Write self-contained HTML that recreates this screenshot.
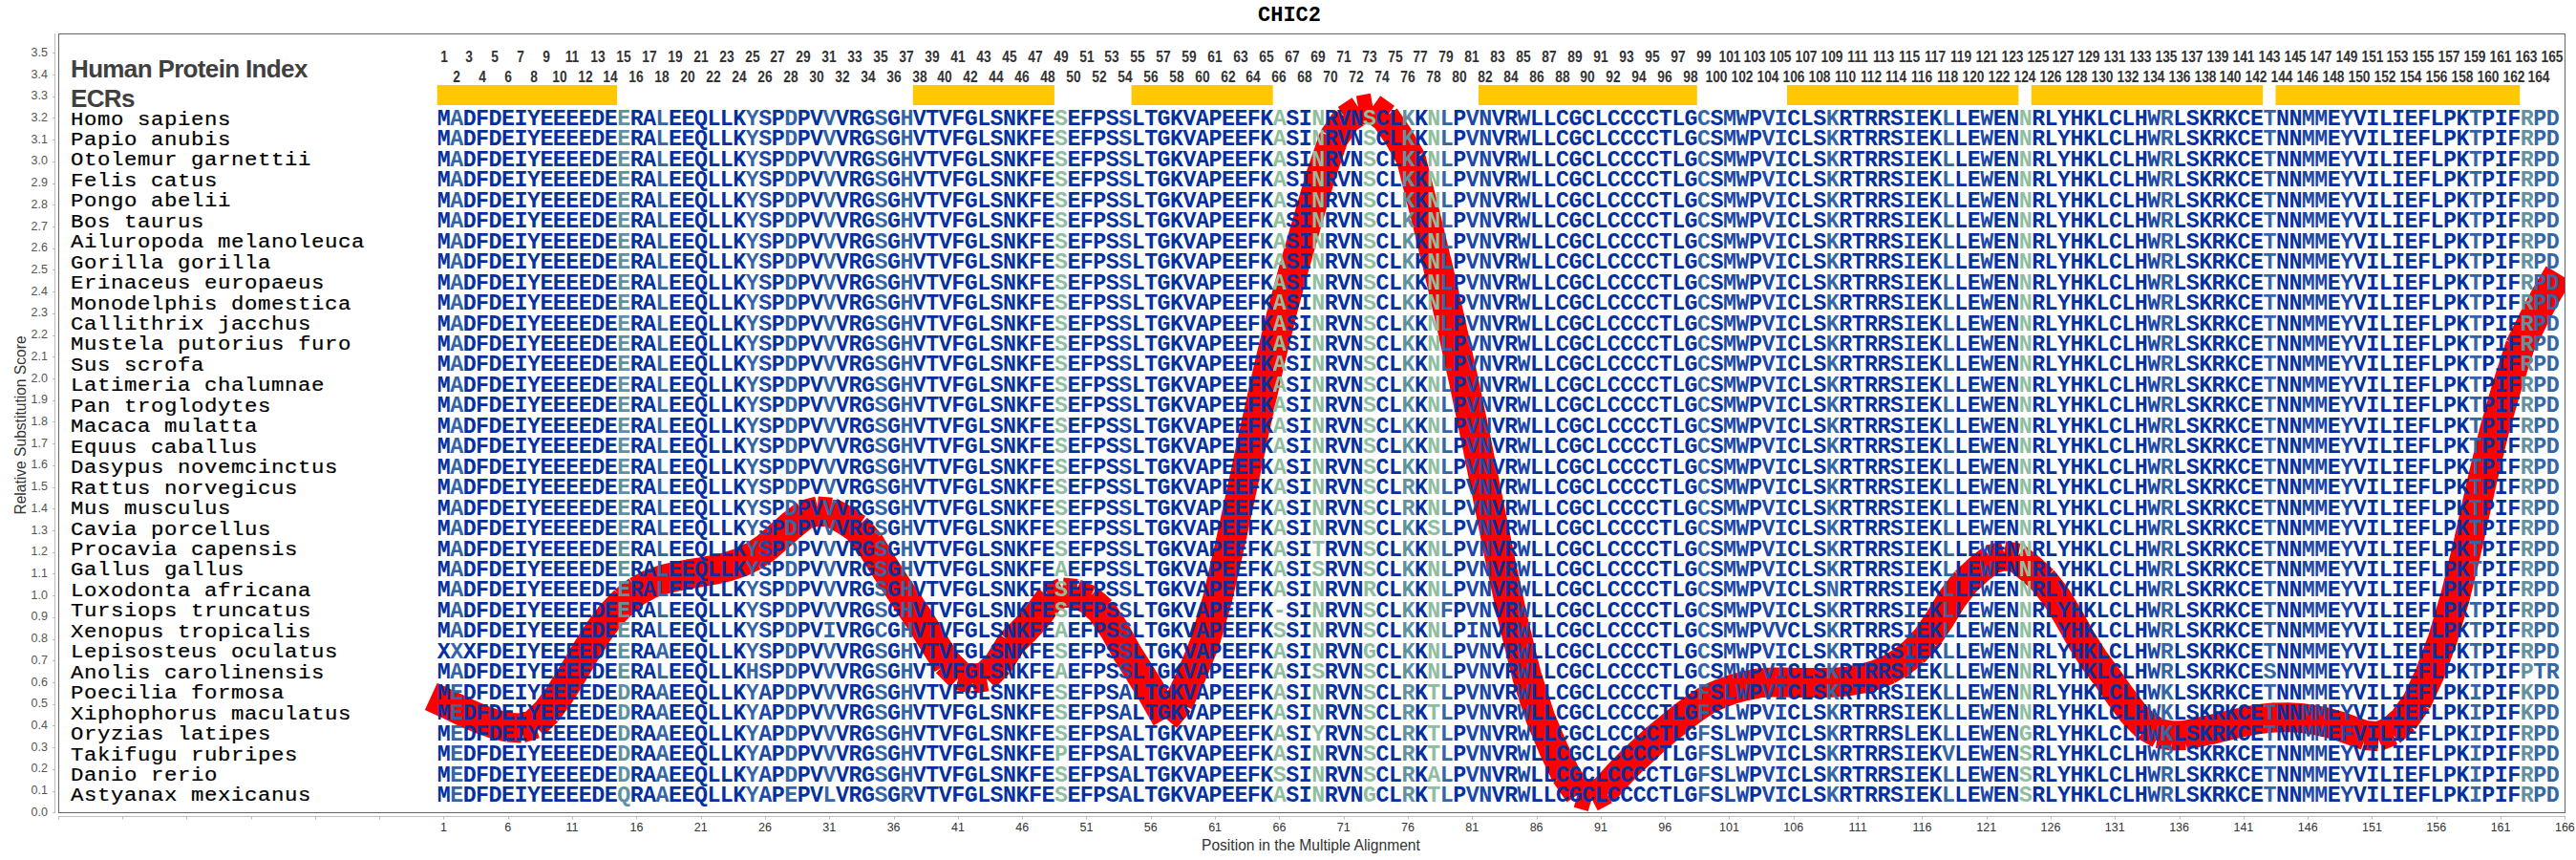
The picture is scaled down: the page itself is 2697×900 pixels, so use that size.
<!DOCTYPE html><html><head><meta charset="utf-8"><style>

html,body{margin:0;padding:0;background:#fff;}
body{width:2697px;height:900px;position:relative;overflow:hidden;}
.a{position:absolute;white-space:pre;}
.ttl{font:bold 22px "Liberation Mono",monospace;color:#000;}
.yl{font:12.5px "Liberation Sans",sans-serif;color:#555;text-align:right;width:40px;left:10px;line-height:14px;}
.xl{font:12.5px "Liberation Sans",sans-serif;color:#333;width:40px;text-align:center;line-height:14px;}
.lab{font:15.6px "Liberation Sans",sans-serif;color:#333;}
.hpi{font:bold 26px "Liberation Sans",sans-serif;color:#404040;line-height:30px;letter-spacing:-0.65px;}
.num{font:bold 16px "Liberation Sans",sans-serif;color:#333;width:40px;text-align:center;line-height:16px;transform:scaleX(0.86);}
.sp{font:20.5px "Liberation Mono",monospace;color:#000;letter-spacing:0.54px;line-height:21.45px;-webkit-text-stroke:0.2px #000;transform:scaleX(1.09);transform-origin:0 0;}
.sq{font:bold 23.3px "Liberation Mono",monospace;letter-spacing:-0.52px;line-height:21.45px;}
.c0{color:#0530a0}.c1{color:#1c48a8}.c2{color:#3466a6}.c3{color:#5f929e}.c4{color:#8fbe9f}

</style></head><body>
<div class="a ttl" style="left:1317px;top:3.5px;">CHIC2</div>
<svg class="a" style="left:0;top:0" width="2697" height="900"><line x1="57.5" y1="35" x2="57.5" y2="851" stroke="#bbb" stroke-width="1"/><line x1="55" y1="850.5" x2="57.5" y2="850.5" stroke="#bbb" stroke-width="1"/><line x1="55" y1="828.5" x2="57.5" y2="828.5" stroke="#bbb" stroke-width="1"/><line x1="55" y1="805.5" x2="57.5" y2="805.5" stroke="#bbb" stroke-width="1"/><line x1="55" y1="782.5" x2="57.5" y2="782.5" stroke="#bbb" stroke-width="1"/><line x1="55" y1="759.5" x2="57.5" y2="759.5" stroke="#bbb" stroke-width="1"/><line x1="55" y1="737.5" x2="57.5" y2="737.5" stroke="#bbb" stroke-width="1"/><line x1="55" y1="714.5" x2="57.5" y2="714.5" stroke="#bbb" stroke-width="1"/><line x1="55" y1="691.5" x2="57.5" y2="691.5" stroke="#bbb" stroke-width="1"/><line x1="55" y1="669.5" x2="57.5" y2="669.5" stroke="#bbb" stroke-width="1"/><line x1="55" y1="646.5" x2="57.5" y2="646.5" stroke="#bbb" stroke-width="1"/><line x1="55" y1="623.5" x2="57.5" y2="623.5" stroke="#bbb" stroke-width="1"/><line x1="55" y1="600.5" x2="57.5" y2="600.5" stroke="#bbb" stroke-width="1"/><line x1="55" y1="578.5" x2="57.5" y2="578.5" stroke="#bbb" stroke-width="1"/><line x1="55" y1="555.5" x2="57.5" y2="555.5" stroke="#bbb" stroke-width="1"/><line x1="55" y1="532.5" x2="57.5" y2="532.5" stroke="#bbb" stroke-width="1"/><line x1="55" y1="510.5" x2="57.5" y2="510.5" stroke="#bbb" stroke-width="1"/><line x1="55" y1="487.5" x2="57.5" y2="487.5" stroke="#bbb" stroke-width="1"/><line x1="55" y1="464.5" x2="57.5" y2="464.5" stroke="#bbb" stroke-width="1"/><line x1="55" y1="441.5" x2="57.5" y2="441.5" stroke="#bbb" stroke-width="1"/><line x1="55" y1="419.5" x2="57.5" y2="419.5" stroke="#bbb" stroke-width="1"/><line x1="55" y1="396.5" x2="57.5" y2="396.5" stroke="#bbb" stroke-width="1"/><line x1="55" y1="373.5" x2="57.5" y2="373.5" stroke="#bbb" stroke-width="1"/><line x1="55" y1="351.5" x2="57.5" y2="351.5" stroke="#bbb" stroke-width="1"/><line x1="55" y1="328.5" x2="57.5" y2="328.5" stroke="#bbb" stroke-width="1"/><line x1="55" y1="305.5" x2="57.5" y2="305.5" stroke="#bbb" stroke-width="1"/><line x1="55" y1="282.5" x2="57.5" y2="282.5" stroke="#bbb" stroke-width="1"/><line x1="55" y1="260.5" x2="57.5" y2="260.5" stroke="#bbb" stroke-width="1"/><line x1="55" y1="237.5" x2="57.5" y2="237.5" stroke="#bbb" stroke-width="1"/><line x1="55" y1="214.5" x2="57.5" y2="214.5" stroke="#bbb" stroke-width="1"/><line x1="55" y1="192.5" x2="57.5" y2="192.5" stroke="#bbb" stroke-width="1"/><line x1="55" y1="169.5" x2="57.5" y2="169.5" stroke="#bbb" stroke-width="1"/><line x1="55" y1="146.5" x2="57.5" y2="146.5" stroke="#bbb" stroke-width="1"/><line x1="55" y1="123.5" x2="57.5" y2="123.5" stroke="#bbb" stroke-width="1"/><line x1="55" y1="101.5" x2="57.5" y2="101.5" stroke="#bbb" stroke-width="1"/><line x1="55" y1="78.5" x2="57.5" y2="78.5" stroke="#bbb" stroke-width="1"/><line x1="55" y1="55.5" x2="57.5" y2="55.5" stroke="#bbb" stroke-width="1"/><line x1="61" y1="854.5" x2="2686" y2="854.5" stroke="#bbb" stroke-width="1"/><line x1="61.5" y1="854.5" x2="61.5" y2="857.5" stroke="#bbb" stroke-width="1"/><line x1="128.5" y1="854.5" x2="128.5" y2="857.5" stroke="#bbb" stroke-width="1"/><line x1="195.5" y1="854.5" x2="195.5" y2="857.5" stroke="#bbb" stroke-width="1"/><line x1="263.5" y1="854.5" x2="263.5" y2="857.5" stroke="#bbb" stroke-width="1"/><line x1="330.5" y1="854.5" x2="330.5" y2="857.5" stroke="#bbb" stroke-width="1"/><line x1="397.5" y1="854.5" x2="397.5" y2="857.5" stroke="#bbb" stroke-width="1"/><line x1="464.5" y1="854.5" x2="464.5" y2="857.5" stroke="#bbb" stroke-width="1"/><line x1="532.5" y1="854.5" x2="532.5" y2="857.5" stroke="#bbb" stroke-width="1"/><line x1="599.5" y1="854.5" x2="599.5" y2="857.5" stroke="#bbb" stroke-width="1"/><line x1="666.5" y1="854.5" x2="666.5" y2="857.5" stroke="#bbb" stroke-width="1"/><line x1="734.5" y1="854.5" x2="734.5" y2="857.5" stroke="#bbb" stroke-width="1"/><line x1="801.5" y1="854.5" x2="801.5" y2="857.5" stroke="#bbb" stroke-width="1"/><line x1="868.5" y1="854.5" x2="868.5" y2="857.5" stroke="#bbb" stroke-width="1"/><line x1="936.5" y1="854.5" x2="936.5" y2="857.5" stroke="#bbb" stroke-width="1"/><line x1="1003.5" y1="854.5" x2="1003.5" y2="857.5" stroke="#bbb" stroke-width="1"/><line x1="1070.5" y1="854.5" x2="1070.5" y2="857.5" stroke="#bbb" stroke-width="1"/><line x1="1137.5" y1="854.5" x2="1137.5" y2="857.5" stroke="#bbb" stroke-width="1"/><line x1="1205.5" y1="854.5" x2="1205.5" y2="857.5" stroke="#bbb" stroke-width="1"/><line x1="1272.5" y1="854.5" x2="1272.5" y2="857.5" stroke="#bbb" stroke-width="1"/><line x1="1339.5" y1="854.5" x2="1339.5" y2="857.5" stroke="#bbb" stroke-width="1"/><line x1="1407.5" y1="854.5" x2="1407.5" y2="857.5" stroke="#bbb" stroke-width="1"/><line x1="1474.5" y1="854.5" x2="1474.5" y2="857.5" stroke="#bbb" stroke-width="1"/><line x1="1541.5" y1="854.5" x2="1541.5" y2="857.5" stroke="#bbb" stroke-width="1"/><line x1="1609.5" y1="854.5" x2="1609.5" y2="857.5" stroke="#bbb" stroke-width="1"/><line x1="1676.5" y1="854.5" x2="1676.5" y2="857.5" stroke="#bbb" stroke-width="1"/><line x1="1743.5" y1="854.5" x2="1743.5" y2="857.5" stroke="#bbb" stroke-width="1"/><line x1="1810.5" y1="854.5" x2="1810.5" y2="857.5" stroke="#bbb" stroke-width="1"/><line x1="1878.5" y1="854.5" x2="1878.5" y2="857.5" stroke="#bbb" stroke-width="1"/><line x1="1945.5" y1="854.5" x2="1945.5" y2="857.5" stroke="#bbb" stroke-width="1"/><line x1="2012.5" y1="854.5" x2="2012.5" y2="857.5" stroke="#bbb" stroke-width="1"/><line x1="2080.5" y1="854.5" x2="2080.5" y2="857.5" stroke="#bbb" stroke-width="1"/><line x1="2147.5" y1="854.5" x2="2147.5" y2="857.5" stroke="#bbb" stroke-width="1"/><line x1="2214.5" y1="854.5" x2="2214.5" y2="857.5" stroke="#bbb" stroke-width="1"/><line x1="2282.5" y1="854.5" x2="2282.5" y2="857.5" stroke="#bbb" stroke-width="1"/><line x1="2349.5" y1="854.5" x2="2349.5" y2="857.5" stroke="#bbb" stroke-width="1"/><line x1="2416.5" y1="854.5" x2="2416.5" y2="857.5" stroke="#bbb" stroke-width="1"/><line x1="2483.5" y1="854.5" x2="2483.5" y2="857.5" stroke="#bbb" stroke-width="1"/><line x1="2551.5" y1="854.5" x2="2551.5" y2="857.5" stroke="#bbb" stroke-width="1"/><line x1="2618.5" y1="854.5" x2="2618.5" y2="857.5" stroke="#bbb" stroke-width="1"/><line x1="2685.5" y1="854.5" x2="2685.5" y2="857.5" stroke="#bbb" stroke-width="1"/><rect x="61.5" y="35.5" width="2624" height="815" fill="none" stroke="#666" stroke-width="1"/><rect x="457.7" y="89" width="188.4" height="21" fill="#ffc800"/><rect x="955.8" y="89" width="148.1" height="21" fill="#ffc800"/><rect x="1184.6" y="89" width="148.1" height="21" fill="#ffc800"/><rect x="1548.0" y="89" width="228.8" height="21" fill="#ffc800"/><rect x="1871.0" y="89" width="242.3" height="21" fill="#ffc800"/><rect x="2126.8" y="89" width="242.3" height="21" fill="#ffc800"/><rect x="2382.5" y="89" width="255.7" height="21" fill="#ffc800"/><clipPath id="cp"><rect x="62" y="36" width="2623" height="814"/></clipPath><path clip-path="url(#cp)" d="M451.3 728.8L465.5 735.3M464.1 734.6L479.0 741.8M477.6 741.1L492.5 748.1M491.1 747.4L506.0 753.7M504.5 753.2L519.6 758.2M518.0 757.8L533.1 761.3M531.5 761.1L546.6 762.1M545.0 762.3L560.1 757.4M558.7 758.2L573.4 744.2M572.3 745.4L586.8 725.6M585.9 726.9L600.2 704.0M599.4 705.4L613.7 681.2M612.9 682.6L627.2 660.0M626.3 661.4L640.8 642.2M639.8 643.4L654.4 628.2M653.2 629.2L667.9 617.8M666.6 618.7L681.5 610.8M680.1 611.4L695.1 606.2M693.5 606.6L708.6 603.1M707.0 603.4L722.1 600.7M720.5 600.9L735.6 598.5M734.0 598.8L749.1 596.1M747.5 596.4L762.6 593.0M761.1 593.4L776.1 588.4M774.6 589.0L789.5 581.8M788.2 582.6L803.0 572.6M801.7 573.6L816.4 560.6M815.2 561.7L829.9 548.7M828.7 549.8L843.4 538.0M842.0 538.7L857.1 534.8M855.5 534.9L870.6 536.1M869.1 535.6L884.0 543.9M882.7 543.1L897.5 552.9M896.3 551.8L910.8 568.9M909.9 567.6L924.2 590.9M923.4 589.6L937.8 611.7M936.9 610.4L951.3 631.6M950.4 630.3L964.8 651.7M963.9 650.4L978.2 673.4M977.4 672.1L991.8 694.5M990.8 693.3L1005.4 707.6M1004.1 706.8L1019.1 710.7M1017.5 710.6L1032.6 707.9M1031.3 708.6L1045.9 693.9M1044.9 695.1L1059.3 672.4M1058.3 673.6L1072.9 659.1M1071.8 660.3L1086.4 644.4M1085.4 645.7L1099.8 625.3M1098.6 626.3L1113.6 619.7M1112.0 619.9L1127.1 621.4M1125.6 621.0L1140.6 627.6M1139.2 626.8L1153.9 639.7M1152.9 638.5L1167.3 660.0M1166.4 658.6L1180.7 684.4M1179.9 683.0L1194.3 705.7M1193.4 704.4L1207.8 727.7M1206.9 726.3L1221.2 751.7M1220.3 751.6L1234.9 734.4M1234.0 735.7L1248.2 705.3M1247.5 706.7L1261.6 672.2M1261.1 673.7L1275.1 625.1M1274.7 626.6L1288.5 566.5M1288.2 568.1L1302.0 504.1M1301.7 505.6L1315.5 441.1M1315.2 442.7L1329.0 380.9M1328.6 382.5L1342.5 325.8M1342.1 327.3L1356.0 275.8M1355.6 277.4L1369.6 228.8M1369.1 230.3L1383.1 182.6M1382.6 184.1L1396.6 143.6M1395.9 145.0L1410.3 123.8M1409.2 124.9L1424.0 115.3M1422.6 115.8L1437.6 113.1M1436.2 112.8L1451.0 123.3M1449.9 122.2L1464.3 143.0M1463.4 141.6L1477.7 166.6M1477.1 165.1L1491.0 220.1M1490.7 218.5L1504.5 275.6M1504.2 274.1L1518.0 333.5M1517.7 332.0L1531.5 394.3M1531.2 392.7L1545.0 458.5M1544.7 456.9L1558.5 525.8M1558.2 524.2L1572.0 592.6M1571.7 591.0L1585.5 655.1M1585.2 653.6L1599.0 709.4M1598.6 707.8L1612.6 750.9M1612.0 749.4L1626.2 783.3M1625.5 781.9L1639.7 811.5M1638.9 810.1L1653.3 830.7M1652.1 829.8L1667.1 834.2M1665.6 834.4L1680.6 826.6M1679.3 827.6L1693.9 811.4M1692.8 812.6L1707.4 797.4M1706.3 798.5L1720.9 785.0M1719.8 786.0L1734.4 772.5M1733.2 773.5L1748.0 761.5M1746.7 762.5L1761.5 750.5M1760.2 751.5L1775.0 740.5M1773.7 741.4L1788.5 731.6M1787.1 732.3L1802.1 725.7M1800.6 726.3L1815.6 720.7M1814.1 721.2L1829.1 717.3M1827.6 717.7L1842.6 714.7M1841.1 714.9L1856.2 713.9M1854.6 713.9L1869.7 714.0M1868.1 714.0L1883.2 714.4M1881.6 714.4L1896.7 714.6M1895.1 714.6L1910.2 714.6M1908.6 714.6L1923.7 714.0M1922.1 714.1L1937.2 712.6M1935.6 712.8L1950.7 710.1M1949.1 710.5L1964.1 706.3M1962.6 706.8L1977.6 700.6M1976.2 701.4L1991.1 692.7M1989.7 693.6L2004.5 682.0M2003.3 683.0L2017.9 667.5M2016.9 668.7L2031.3 647.3M2030.5 648.6L2044.8 625.2M2043.9 626.5L2058.4 607.9M2057.3 609.1L2072.0 595.6M2070.7 596.7L2085.5 585.0M2084.1 585.7L2099.1 581.3M2097.6 581.4L2112.7 584.1M2111.3 583.5L2126.0 595.4M2124.8 594.3L2139.5 607.6M2138.4 606.5L2152.9 624.7M2152.0 623.4L2166.3 646.7M2165.5 645.4L2179.8 670.9M2178.9 669.5L2193.3 691.9M2192.4 690.6L2206.9 710.0M2205.9 708.7L2220.3 729.2M2219.4 727.9L2233.9 747.1M2232.8 745.9L2247.4 760.6M2246.2 759.6L2261.1 767.9M2259.6 767.4L2274.7 770.1M2273.1 770.0L2288.2 769.5M2286.6 769.7L2301.7 766.3M2300.1 766.7L2315.2 763.4M2313.6 763.8L2328.7 760.2M2327.1 760.6L2342.2 757.0M2340.6 757.4L2355.7 754.2M2354.1 754.5L2369.2 752.0M2367.6 752.2L2382.7 750.8M2381.1 750.9L2396.2 750.7M2394.6 750.6L2409.7 751.5M2408.1 751.3L2423.2 753.3M2421.6 753.1L2436.7 756.2M2435.1 755.8L2450.2 760.1M2448.6 759.6L2463.6 765.0M2462.1 764.5L2477.1 769.8M2475.6 769.4L2490.7 770.8M2489.2 771.0L2504.1 764.9M2502.8 765.8L2517.5 752.8M2516.4 753.9L2530.9 733.6M2530.1 735.0L2544.2 704.8M2543.6 706.2L2557.7 668.1M2557.2 669.6L2571.1 622.5M2570.7 624.0L2584.6 566.8M2584.2 568.4L2598.1 505.8M2597.7 507.3L2611.6 449.9M2611.2 451.4L2625.1 403.0M2624.7 404.5L2638.6 361.2M2638.0 362.7L2652.3 334.3M2651.5 335.7L2665.8 308.3M2665.0 309.7L2678.9 286.5" stroke="#ff0000" stroke-width="31" fill="none" stroke-linecap="butt"/></svg>
<div class="a yl" style="top:842.8px">0.0</div>
<div class="a yl" style="top:820.1px">0.1</div>
<div class="a yl" style="top:797.4px">0.2</div>
<div class="a yl" style="top:774.7px">0.3</div>
<div class="a yl" style="top:751.9px">0.4</div>
<div class="a yl" style="top:729.2px">0.5</div>
<div class="a yl" style="top:706.5px">0.6</div>
<div class="a yl" style="top:683.8px">0.7</div>
<div class="a yl" style="top:661.1px">0.8</div>
<div class="a yl" style="top:638.4px">0.9</div>
<div class="a yl" style="top:615.7px">1.0</div>
<div class="a yl" style="top:593.0px">1.1</div>
<div class="a yl" style="top:570.2px">1.2</div>
<div class="a yl" style="top:547.5px">1.3</div>
<div class="a yl" style="top:524.8px">1.4</div>
<div class="a yl" style="top:502.1px">1.5</div>
<div class="a yl" style="top:479.4px">1.6</div>
<div class="a yl" style="top:456.7px">1.7</div>
<div class="a yl" style="top:434.0px">1.8</div>
<div class="a yl" style="top:411.3px">1.9</div>
<div class="a yl" style="top:388.5px">2.0</div>
<div class="a yl" style="top:365.8px">2.1</div>
<div class="a yl" style="top:343.1px">2.2</div>
<div class="a yl" style="top:320.4px">2.3</div>
<div class="a yl" style="top:297.7px">2.4</div>
<div class="a yl" style="top:275.0px">2.5</div>
<div class="a yl" style="top:252.3px">2.6</div>
<div class="a yl" style="top:229.5px">2.7</div>
<div class="a yl" style="top:206.8px">2.8</div>
<div class="a yl" style="top:184.1px">2.9</div>
<div class="a yl" style="top:161.4px">3.0</div>
<div class="a yl" style="top:138.7px">3.1</div>
<div class="a yl" style="top:116.0px">3.2</div>
<div class="a yl" style="top:93.3px">3.3</div>
<div class="a yl" style="top:70.6px">3.4</div>
<div class="a yl" style="top:47.8px">3.5</div>
<div class="a xl" style="left:444.5px;top:859px">1</div>
<div class="a xl" style="left:511.8px;top:859px">6</div>
<div class="a xl" style="left:579.1px;top:859px">11</div>
<div class="a xl" style="left:646.4px;top:859px">16</div>
<div class="a xl" style="left:713.7px;top:859px">21</div>
<div class="a xl" style="left:781.0px;top:859px">26</div>
<div class="a xl" style="left:848.3px;top:859px">31</div>
<div class="a xl" style="left:915.6px;top:859px">36</div>
<div class="a xl" style="left:982.9px;top:859px">41</div>
<div class="a xl" style="left:1050.2px;top:859px">46</div>
<div class="a xl" style="left:1117.5px;top:859px">51</div>
<div class="a xl" style="left:1184.8px;top:859px">56</div>
<div class="a xl" style="left:1252.1px;top:859px">61</div>
<div class="a xl" style="left:1319.4px;top:859px">66</div>
<div class="a xl" style="left:1386.7px;top:859px">71</div>
<div class="a xl" style="left:1454.0px;top:859px">76</div>
<div class="a xl" style="left:1521.3px;top:859px">81</div>
<div class="a xl" style="left:1588.6px;top:859px">86</div>
<div class="a xl" style="left:1655.9px;top:859px">91</div>
<div class="a xl" style="left:1723.2px;top:859px">96</div>
<div class="a xl" style="left:1790.5px;top:859px">101</div>
<div class="a xl" style="left:1857.8px;top:859px">106</div>
<div class="a xl" style="left:1925.1px;top:859px">111</div>
<div class="a xl" style="left:1992.4px;top:859px">116</div>
<div class="a xl" style="left:2059.7px;top:859px">121</div>
<div class="a xl" style="left:2127.0px;top:859px">126</div>
<div class="a xl" style="left:2194.3px;top:859px">131</div>
<div class="a xl" style="left:2261.6px;top:859px">136</div>
<div class="a xl" style="left:2328.9px;top:859px">141</div>
<div class="a xl" style="left:2396.2px;top:859px">146</div>
<div class="a xl" style="left:2463.5px;top:859px">151</div>
<div class="a xl" style="left:2530.8px;top:859px">156</div>
<div class="a xl" style="left:2598.1px;top:859px">161</div>
<div class="a xl" style="left:2665.4px;top:859px">166</div>
<div class="a lab" style="left:1258px;top:875.5px">Position in the Multiple Alignment</div>
<div class="a lab" style="left:22px;top:444.5px;transform:translate(-50%,-50%) rotate(-90deg);">Relative Substitution Score</div>
<div class="a hpi" style="left:74px;top:56.5px">Human Protein Index</div>
<div class="a hpi" style="left:74px;top:88px">ECRs</div>
<div class="a num" style="left:444.5px;top:52px">1</div>
<div class="a num" style="left:457.9px;top:73px">2</div>
<div class="a num" style="left:471.4px;top:52px">3</div>
<div class="a num" style="left:484.8px;top:73px">4</div>
<div class="a num" style="left:498.3px;top:52px">5</div>
<div class="a num" style="left:511.8px;top:73px">6</div>
<div class="a num" style="left:525.2px;top:52px">7</div>
<div class="a num" style="left:538.7px;top:73px">8</div>
<div class="a num" style="left:552.1px;top:52px">9</div>
<div class="a num" style="left:565.6px;top:73px">10</div>
<div class="a num" style="left:579.1px;top:52px">11</div>
<div class="a num" style="left:592.5px;top:73px">12</div>
<div class="a num" style="left:606.0px;top:52px">13</div>
<div class="a num" style="left:619.4px;top:73px">14</div>
<div class="a num" style="left:632.9px;top:52px">15</div>
<div class="a num" style="left:646.4px;top:73px">16</div>
<div class="a num" style="left:659.8px;top:52px">17</div>
<div class="a num" style="left:673.3px;top:73px">18</div>
<div class="a num" style="left:686.7px;top:52px">19</div>
<div class="a num" style="left:700.2px;top:73px">20</div>
<div class="a num" style="left:713.7px;top:52px">21</div>
<div class="a num" style="left:727.1px;top:73px">22</div>
<div class="a num" style="left:740.6px;top:52px">23</div>
<div class="a num" style="left:754.0px;top:73px">24</div>
<div class="a num" style="left:767.5px;top:52px">25</div>
<div class="a num" style="left:781.0px;top:73px">26</div>
<div class="a num" style="left:794.4px;top:52px">27</div>
<div class="a num" style="left:807.9px;top:73px">28</div>
<div class="a num" style="left:821.3px;top:52px">29</div>
<div class="a num" style="left:834.8px;top:73px">30</div>
<div class="a num" style="left:848.3px;top:52px">31</div>
<div class="a num" style="left:861.7px;top:73px">32</div>
<div class="a num" style="left:875.2px;top:52px">33</div>
<div class="a num" style="left:888.6px;top:73px">34</div>
<div class="a num" style="left:902.1px;top:52px">35</div>
<div class="a num" style="left:915.6px;top:73px">36</div>
<div class="a num" style="left:929.0px;top:52px">37</div>
<div class="a num" style="left:942.5px;top:73px">38</div>
<div class="a num" style="left:955.9px;top:52px">39</div>
<div class="a num" style="left:969.4px;top:73px">40</div>
<div class="a num" style="left:982.9px;top:52px">41</div>
<div class="a num" style="left:996.3px;top:73px">42</div>
<div class="a num" style="left:1009.8px;top:52px">43</div>
<div class="a num" style="left:1023.2px;top:73px">44</div>
<div class="a num" style="left:1036.7px;top:52px">45</div>
<div class="a num" style="left:1050.2px;top:73px">46</div>
<div class="a num" style="left:1063.6px;top:52px">47</div>
<div class="a num" style="left:1077.1px;top:73px">48</div>
<div class="a num" style="left:1090.5px;top:52px">49</div>
<div class="a num" style="left:1104.0px;top:73px">50</div>
<div class="a num" style="left:1117.5px;top:52px">51</div>
<div class="a num" style="left:1130.9px;top:73px">52</div>
<div class="a num" style="left:1144.4px;top:52px">53</div>
<div class="a num" style="left:1157.8px;top:73px">54</div>
<div class="a num" style="left:1171.3px;top:52px">55</div>
<div class="a num" style="left:1184.8px;top:73px">56</div>
<div class="a num" style="left:1198.2px;top:52px">57</div>
<div class="a num" style="left:1211.7px;top:73px">58</div>
<div class="a num" style="left:1225.1px;top:52px">59</div>
<div class="a num" style="left:1238.6px;top:73px">60</div>
<div class="a num" style="left:1252.1px;top:52px">61</div>
<div class="a num" style="left:1265.5px;top:73px">62</div>
<div class="a num" style="left:1279.0px;top:52px">63</div>
<div class="a num" style="left:1292.4px;top:73px">64</div>
<div class="a num" style="left:1305.9px;top:52px">65</div>
<div class="a num" style="left:1319.4px;top:73px">66</div>
<div class="a num" style="left:1332.8px;top:52px">67</div>
<div class="a num" style="left:1346.3px;top:73px">68</div>
<div class="a num" style="left:1359.7px;top:52px">69</div>
<div class="a num" style="left:1373.2px;top:73px">70</div>
<div class="a num" style="left:1386.7px;top:52px">71</div>
<div class="a num" style="left:1400.1px;top:73px">72</div>
<div class="a num" style="left:1413.6px;top:52px">73</div>
<div class="a num" style="left:1427.0px;top:73px">74</div>
<div class="a num" style="left:1440.5px;top:52px">75</div>
<div class="a num" style="left:1454.0px;top:73px">76</div>
<div class="a num" style="left:1467.4px;top:52px">77</div>
<div class="a num" style="left:1480.9px;top:73px">78</div>
<div class="a num" style="left:1494.3px;top:52px">79</div>
<div class="a num" style="left:1507.8px;top:73px">80</div>
<div class="a num" style="left:1521.3px;top:52px">81</div>
<div class="a num" style="left:1534.7px;top:73px">82</div>
<div class="a num" style="left:1548.2px;top:52px">83</div>
<div class="a num" style="left:1561.6px;top:73px">84</div>
<div class="a num" style="left:1575.1px;top:52px">85</div>
<div class="a num" style="left:1588.6px;top:73px">86</div>
<div class="a num" style="left:1602.0px;top:52px">87</div>
<div class="a num" style="left:1615.5px;top:73px">88</div>
<div class="a num" style="left:1628.9px;top:52px">89</div>
<div class="a num" style="left:1642.4px;top:73px">90</div>
<div class="a num" style="left:1655.9px;top:52px">91</div>
<div class="a num" style="left:1669.3px;top:73px">92</div>
<div class="a num" style="left:1682.8px;top:52px">93</div>
<div class="a num" style="left:1696.2px;top:73px">94</div>
<div class="a num" style="left:1709.7px;top:52px">95</div>
<div class="a num" style="left:1723.2px;top:73px">96</div>
<div class="a num" style="left:1736.6px;top:52px">97</div>
<div class="a num" style="left:1750.1px;top:73px">98</div>
<div class="a num" style="left:1763.5px;top:52px">99</div>
<div class="a num" style="left:1777.0px;top:73px">100</div>
<div class="a num" style="left:1790.5px;top:52px">101</div>
<div class="a num" style="left:1803.9px;top:73px">102</div>
<div class="a num" style="left:1817.4px;top:52px">103</div>
<div class="a num" style="left:1830.8px;top:73px">104</div>
<div class="a num" style="left:1844.3px;top:52px">105</div>
<div class="a num" style="left:1857.8px;top:73px">106</div>
<div class="a num" style="left:1871.2px;top:52px">107</div>
<div class="a num" style="left:1884.7px;top:73px">108</div>
<div class="a num" style="left:1898.1px;top:52px">109</div>
<div class="a num" style="left:1911.6px;top:73px">110</div>
<div class="a num" style="left:1925.1px;top:52px">111</div>
<div class="a num" style="left:1938.5px;top:73px">112</div>
<div class="a num" style="left:1952.0px;top:52px">113</div>
<div class="a num" style="left:1965.4px;top:73px">114</div>
<div class="a num" style="left:1978.9px;top:52px">115</div>
<div class="a num" style="left:1992.4px;top:73px">116</div>
<div class="a num" style="left:2005.8px;top:52px">117</div>
<div class="a num" style="left:2019.3px;top:73px">118</div>
<div class="a num" style="left:2032.7px;top:52px">119</div>
<div class="a num" style="left:2046.2px;top:73px">120</div>
<div class="a num" style="left:2059.7px;top:52px">121</div>
<div class="a num" style="left:2073.1px;top:73px">122</div>
<div class="a num" style="left:2086.6px;top:52px">123</div>
<div class="a num" style="left:2100.0px;top:73px">124</div>
<div class="a num" style="left:2113.5px;top:52px">125</div>
<div class="a num" style="left:2127.0px;top:73px">126</div>
<div class="a num" style="left:2140.4px;top:52px">127</div>
<div class="a num" style="left:2153.9px;top:73px">128</div>
<div class="a num" style="left:2167.3px;top:52px">129</div>
<div class="a num" style="left:2180.8px;top:73px">130</div>
<div class="a num" style="left:2194.3px;top:52px">131</div>
<div class="a num" style="left:2207.7px;top:73px">132</div>
<div class="a num" style="left:2221.2px;top:52px">133</div>
<div class="a num" style="left:2234.6px;top:73px">134</div>
<div class="a num" style="left:2248.1px;top:52px">135</div>
<div class="a num" style="left:2261.6px;top:73px">136</div>
<div class="a num" style="left:2275.0px;top:52px">137</div>
<div class="a num" style="left:2288.5px;top:73px">138</div>
<div class="a num" style="left:2301.9px;top:52px">139</div>
<div class="a num" style="left:2315.4px;top:73px">140</div>
<div class="a num" style="left:2328.9px;top:52px">141</div>
<div class="a num" style="left:2342.3px;top:73px">142</div>
<div class="a num" style="left:2355.8px;top:52px">143</div>
<div class="a num" style="left:2369.2px;top:73px">144</div>
<div class="a num" style="left:2382.7px;top:52px">145</div>
<div class="a num" style="left:2396.2px;top:73px">146</div>
<div class="a num" style="left:2409.6px;top:52px">147</div>
<div class="a num" style="left:2423.1px;top:73px">148</div>
<div class="a num" style="left:2436.5px;top:52px">149</div>
<div class="a num" style="left:2450.0px;top:73px">150</div>
<div class="a num" style="left:2463.5px;top:52px">151</div>
<div class="a num" style="left:2476.9px;top:73px">152</div>
<div class="a num" style="left:2490.4px;top:52px">153</div>
<div class="a num" style="left:2503.8px;top:73px">154</div>
<div class="a num" style="left:2517.3px;top:52px">155</div>
<div class="a num" style="left:2530.8px;top:73px">156</div>
<div class="a num" style="left:2544.2px;top:52px">157</div>
<div class="a num" style="left:2557.7px;top:73px">158</div>
<div class="a num" style="left:2571.1px;top:52px">159</div>
<div class="a num" style="left:2584.6px;top:73px">160</div>
<div class="a num" style="left:2598.1px;top:52px">161</div>
<div class="a num" style="left:2611.5px;top:73px">162</div>
<div class="a num" style="left:2625.0px;top:52px">163</div>
<div class="a num" style="left:2638.4px;top:73px">164</div>
<div class="a num" style="left:2651.9px;top:52px">165</div>
<div class="a sp" style="left:74px;top:114.5px">Homo sapiens<br>Papio anubis<br>Otolemur garnettii<br>Felis catus<br>Pongo abelii<br>Bos taurus<br>Ailuropoda melanoleuca<br>Gorilla gorilla<br>Erinaceus europaeus<br>Monodelphis domestica<br>Callithrix jacchus<br>Mustela putorius furo<br>Sus scrofa<br>Latimeria chalumnae<br>Pan troglodytes<br>Macaca mulatta<br>Equus caballus<br>Dasypus novemcinctus<br>Rattus norvegicus<br>Mus musculus<br>Cavia porcellus<br>Procavia capensis<br>Gallus gallus<br>Loxodonta africana<br>Tursiops truncatus<br>Xenopus tropicalis<br>Lepisosteus oculatus<br>Anolis carolinensis<br>Poecilia formosa<br>Xiphophorus maculatus<br>Oryzias latipes<br>Takifugu rubripes<br>Danio rerio<br>Astyanax mexicanus</div>
<div class="a sq" style="left:457.7px;top:115.0px"><span class="c0">M</span><span class="c2">A</span><span class="c0">DFDEIYEEEEDE</span><span class="c3">E</span><span class="c0">RA</span><span class="c2">L</span><span class="c0">EEQLLK</span><span class="c2">Y</span><span class="c1">S</span><span class="c0">P</span><span class="c2">D</span><span class="c0">PV</span><span class="c2">V</span><span class="c0">VRG</span><span class="c2">S</span><span class="c0">G</span><span class="c2">H</span><span class="c0">VTVFGLSNKFE</span><span class="c4">S</span><span class="c0">EFPS</span><span class="c1">S</span><span class="c0">LTGKVAPEEFK</span><span class="c4">A</span><span class="c0">SI</span><span class="c4">N</span><span class="c0">RVN</span><span class="c4">S</span><span class="c0">CL</span><span class="c3">K</span><span class="c0">K</span><span class="c4">N</span><span class="c2">L</span><span class="c0">P</span><span class="c1">VN</span><span class="c0">VR</span><span class="c1">W</span><span class="c0">LLCGCLCCCCTLG</span><span class="c2">C</span><span class="c0">S</span><span class="c1">MW</span><span class="c0">P</span><span class="c1">VI</span><span class="c0">CLS</span><span class="c2">K</span><span class="c0">RTRRS</span><span class="c1">I</span><span class="c0">EK</span><span class="c2">L</span><span class="c0">LE</span><span class="c1">W</span><span class="c0">EN</span><span class="c4">N</span><span class="c0">RLYHKLCLH</span><span class="c1">W</span><span class="c2">R</span><span class="c0">LSKRKCE</span><span class="c2">T</span><span class="c0">NN</span><span class="c1">MM</span><span class="c0">E</span><span class="c1">Y</span><span class="c0">VILIEFLPK</span><span class="c2">T</span><span class="c0">PIF</span><span class="c3">R</span><span class="c2">PD</span><br><span class="c0">M</span><span class="c2">A</span><span class="c0">DFDEIYEEEEDE</span><span class="c3">E</span><span class="c0">RA</span><span class="c2">L</span><span class="c0">EEQLLK</span><span class="c2">Y</span><span class="c1">S</span><span class="c0">P</span><span class="c2">D</span><span class="c0">PV</span><span class="c2">V</span><span class="c0">VRG</span><span class="c2">S</span><span class="c0">G</span><span class="c2">H</span><span class="c0">VTVFGLSNKFE</span><span class="c4">S</span><span class="c0">EFPS</span><span class="c1">S</span><span class="c0">LTGKVAPEEFK</span><span class="c4">A</span><span class="c0">SI</span><span class="c4">N</span><span class="c0">RVN</span><span class="c4">S</span><span class="c0">CL</span><span class="c3">K</span><span class="c0">K</span><span class="c4">N</span><span class="c2">L</span><span class="c0">P</span><span class="c1">VN</span><span class="c0">VR</span><span class="c1">W</span><span class="c0">LLCGCLCCCCTLG</span><span class="c2">C</span><span class="c0">S</span><span class="c1">MW</span><span class="c0">P</span><span class="c1">VI</span><span class="c0">CLS</span><span class="c2">K</span><span class="c0">RTRRS</span><span class="c1">I</span><span class="c0">EK</span><span class="c2">L</span><span class="c0">LE</span><span class="c1">W</span><span class="c0">EN</span><span class="c4">N</span><span class="c0">RLYHKLCLH</span><span class="c1">W</span><span class="c2">R</span><span class="c0">LSKRKCE</span><span class="c2">T</span><span class="c0">NN</span><span class="c1">MM</span><span class="c0">E</span><span class="c1">Y</span><span class="c0">VILIEFLPK</span><span class="c2">T</span><span class="c0">PIF</span><span class="c3">R</span><span class="c2">PD</span><br><span class="c0">M</span><span class="c2">A</span><span class="c0">DFDEIYEEEEDE</span><span class="c3">E</span><span class="c0">RA</span><span class="c2">L</span><span class="c0">EEQLLK</span><span class="c2">Y</span><span class="c1">S</span><span class="c0">P</span><span class="c2">D</span><span class="c0">PV</span><span class="c2">V</span><span class="c0">VRG</span><span class="c2">S</span><span class="c0">G</span><span class="c2">H</span><span class="c0">VTVFGLSNKFE</span><span class="c4">S</span><span class="c0">EFPS</span><span class="c1">S</span><span class="c0">LTGKVAPEEFK</span><span class="c4">A</span><span class="c0">SI</span><span class="c4">N</span><span class="c0">RVN</span><span class="c4">S</span><span class="c0">CL</span><span class="c3">K</span><span class="c0">K</span><span class="c4">N</span><span class="c2">L</span><span class="c0">P</span><span class="c1">VN</span><span class="c0">VR</span><span class="c1">W</span><span class="c0">LLCGCLCCCCTLG</span><span class="c2">C</span><span class="c0">S</span><span class="c1">MW</span><span class="c0">P</span><span class="c1">VI</span><span class="c0">CLS</span><span class="c2">K</span><span class="c0">RTRRS</span><span class="c1">I</span><span class="c0">EK</span><span class="c2">L</span><span class="c0">LE</span><span class="c1">W</span><span class="c0">EN</span><span class="c4">N</span><span class="c0">RLYHKLCLH</span><span class="c1">W</span><span class="c2">R</span><span class="c0">LSKRKCE</span><span class="c2">T</span><span class="c0">NN</span><span class="c1">MM</span><span class="c0">E</span><span class="c1">Y</span><span class="c0">VILIEFLPK</span><span class="c2">T</span><span class="c0">PIF</span><span class="c3">R</span><span class="c2">PD</span><br><span class="c0">M</span><span class="c2">A</span><span class="c0">DFDEIYEEEEDE</span><span class="c3">E</span><span class="c0">RA</span><span class="c2">L</span><span class="c0">EEQLLK</span><span class="c2">Y</span><span class="c1">S</span><span class="c0">P</span><span class="c2">D</span><span class="c0">PV</span><span class="c2">V</span><span class="c0">VRG</span><span class="c2">S</span><span class="c0">G</span><span class="c2">H</span><span class="c0">VTVFGLSNKFE</span><span class="c4">S</span><span class="c0">EFPS</span><span class="c1">S</span><span class="c0">LTGKVAPEEFK</span><span class="c4">A</span><span class="c0">SI</span><span class="c4">N</span><span class="c0">RVN</span><span class="c4">S</span><span class="c0">CL</span><span class="c3">K</span><span class="c0">K</span><span class="c4">N</span><span class="c2">L</span><span class="c0">P</span><span class="c1">VN</span><span class="c0">VR</span><span class="c1">W</span><span class="c0">LLCGCLCCCCTLG</span><span class="c2">C</span><span class="c0">S</span><span class="c1">MW</span><span class="c0">P</span><span class="c1">VI</span><span class="c0">CLS</span><span class="c2">K</span><span class="c0">RTRRS</span><span class="c1">I</span><span class="c0">EK</span><span class="c2">L</span><span class="c0">LE</span><span class="c1">W</span><span class="c0">EN</span><span class="c4">N</span><span class="c0">RLYHKLCLH</span><span class="c1">W</span><span class="c2">R</span><span class="c0">LSKRKCE</span><span class="c2">T</span><span class="c0">NN</span><span class="c1">MM</span><span class="c0">E</span><span class="c1">Y</span><span class="c0">VILIEFLPK</span><span class="c2">T</span><span class="c0">PIF</span><span class="c3">R</span><span class="c2">PD</span><br><span class="c0">M</span><span class="c2">A</span><span class="c0">DFDEIYEEEEDE</span><span class="c3">E</span><span class="c0">RA</span><span class="c2">L</span><span class="c0">EEQLLK</span><span class="c2">Y</span><span class="c1">S</span><span class="c0">P</span><span class="c2">D</span><span class="c0">PV</span><span class="c2">V</span><span class="c0">VRG</span><span class="c2">S</span><span class="c0">G</span><span class="c2">H</span><span class="c0">VTVFGLSNKFE</span><span class="c4">S</span><span class="c0">EFPS</span><span class="c1">S</span><span class="c0">LTGKVAPEEFK</span><span class="c4">A</span><span class="c0">SI</span><span class="c4">N</span><span class="c0">RVN</span><span class="c4">S</span><span class="c0">CL</span><span class="c3">K</span><span class="c0">K</span><span class="c4">N</span><span class="c2">L</span><span class="c0">P</span><span class="c1">VN</span><span class="c0">VR</span><span class="c1">W</span><span class="c0">LLCGCLCCCCTLG</span><span class="c2">C</span><span class="c0">S</span><span class="c1">MW</span><span class="c0">P</span><span class="c1">VI</span><span class="c0">CLS</span><span class="c2">K</span><span class="c0">RTRRS</span><span class="c1">I</span><span class="c0">EK</span><span class="c2">L</span><span class="c0">LE</span><span class="c1">W</span><span class="c0">EN</span><span class="c4">N</span><span class="c0">RLYHKLCLH</span><span class="c1">W</span><span class="c2">R</span><span class="c0">LSKRKCE</span><span class="c2">T</span><span class="c0">NN</span><span class="c1">MM</span><span class="c0">E</span><span class="c1">Y</span><span class="c0">VILIEFLPK</span><span class="c2">T</span><span class="c0">PIF</span><span class="c3">R</span><span class="c2">PD</span><br><span class="c0">M</span><span class="c2">A</span><span class="c0">DFDEIYEEEEDE</span><span class="c3">E</span><span class="c0">RA</span><span class="c2">L</span><span class="c0">EEQLLK</span><span class="c2">Y</span><span class="c1">S</span><span class="c0">P</span><span class="c2">D</span><span class="c0">PV</span><span class="c2">V</span><span class="c0">VRG</span><span class="c2">S</span><span class="c0">G</span><span class="c2">H</span><span class="c0">VTVFGLSNKFE</span><span class="c4">S</span><span class="c0">EFPS</span><span class="c1">S</span><span class="c0">LTGKVAPEEFK</span><span class="c4">A</span><span class="c0">SI</span><span class="c4">N</span><span class="c0">RVN</span><span class="c4">S</span><span class="c0">CL</span><span class="c3">K</span><span class="c0">K</span><span class="c4">N</span><span class="c2">L</span><span class="c0">P</span><span class="c1">VN</span><span class="c0">VR</span><span class="c1">W</span><span class="c0">LLCGCLCCCCTLG</span><span class="c2">C</span><span class="c0">S</span><span class="c1">MW</span><span class="c0">P</span><span class="c1">VI</span><span class="c0">CLS</span><span class="c2">K</span><span class="c0">RTRRS</span><span class="c1">I</span><span class="c0">EK</span><span class="c2">L</span><span class="c0">LE</span><span class="c1">W</span><span class="c0">EN</span><span class="c4">N</span><span class="c0">RLYHKLCLH</span><span class="c1">W</span><span class="c2">R</span><span class="c0">LSKRKCE</span><span class="c2">T</span><span class="c0">NN</span><span class="c1">MM</span><span class="c0">E</span><span class="c1">Y</span><span class="c0">VILIEFLPK</span><span class="c2">T</span><span class="c0">PIF</span><span class="c3">R</span><span class="c2">PD</span><br><span class="c0">M</span><span class="c2">A</span><span class="c0">DFDEIYEEEEDE</span><span class="c3">E</span><span class="c0">RA</span><span class="c2">L</span><span class="c0">EEQLLK</span><span class="c2">Y</span><span class="c1">S</span><span class="c0">P</span><span class="c2">D</span><span class="c0">PV</span><span class="c2">V</span><span class="c0">VRG</span><span class="c2">S</span><span class="c0">G</span><span class="c2">H</span><span class="c0">VTVFGLSNKFE</span><span class="c4">S</span><span class="c0">EFPS</span><span class="c1">S</span><span class="c0">LTGKVAPEEFK</span><span class="c4">A</span><span class="c0">SI</span><span class="c4">N</span><span class="c0">RVN</span><span class="c4">S</span><span class="c0">CL</span><span class="c3">K</span><span class="c0">K</span><span class="c4">N</span><span class="c2">L</span><span class="c0">P</span><span class="c1">VN</span><span class="c0">VR</span><span class="c1">W</span><span class="c0">LLCGCLCCCCTLG</span><span class="c2">C</span><span class="c0">S</span><span class="c1">MW</span><span class="c0">P</span><span class="c1">VI</span><span class="c0">CLS</span><span class="c2">K</span><span class="c0">RTRRS</span><span class="c1">I</span><span class="c0">EK</span><span class="c2">L</span><span class="c0">LE</span><span class="c1">W</span><span class="c0">EN</span><span class="c4">N</span><span class="c0">RLYHKLCLH</span><span class="c1">W</span><span class="c2">R</span><span class="c0">LSKRKCE</span><span class="c2">T</span><span class="c0">NN</span><span class="c1">MM</span><span class="c0">E</span><span class="c1">Y</span><span class="c0">VILIEFLPK</span><span class="c2">T</span><span class="c0">PIF</span><span class="c3">R</span><span class="c2">PD</span><br><span class="c0">M</span><span class="c2">A</span><span class="c0">DFDEIYEEEEDE</span><span class="c3">E</span><span class="c0">RA</span><span class="c2">L</span><span class="c0">EEQLLK</span><span class="c2">Y</span><span class="c1">S</span><span class="c0">P</span><span class="c2">D</span><span class="c0">PV</span><span class="c2">V</span><span class="c0">VRG</span><span class="c2">S</span><span class="c0">G</span><span class="c2">H</span><span class="c0">VTVFGLSNKFE</span><span class="c4">S</span><span class="c0">EFPS</span><span class="c1">S</span><span class="c0">LTGKVAPEEFK</span><span class="c4">A</span><span class="c0">SI</span><span class="c4">N</span><span class="c0">RVN</span><span class="c4">S</span><span class="c0">CL</span><span class="c3">K</span><span class="c0">K</span><span class="c4">N</span><span class="c2">L</span><span class="c0">P</span><span class="c1">VN</span><span class="c0">VR</span><span class="c1">W</span><span class="c0">LLCGCLCCCCTLG</span><span class="c2">C</span><span class="c0">S</span><span class="c1">MW</span><span class="c0">P</span><span class="c1">VI</span><span class="c0">CLS</span><span class="c2">K</span><span class="c0">RTRRS</span><span class="c1">I</span><span class="c0">EK</span><span class="c2">L</span><span class="c0">LE</span><span class="c1">W</span><span class="c0">EN</span><span class="c4">N</span><span class="c0">RLYHKLCLH</span><span class="c1">W</span><span class="c2">R</span><span class="c0">LSKRKCE</span><span class="c2">T</span><span class="c0">NN</span><span class="c1">MM</span><span class="c0">E</span><span class="c1">Y</span><span class="c0">VILIEFLPK</span><span class="c2">T</span><span class="c0">PIF</span><span class="c3">R</span><span class="c2">PD</span><br><span class="c0">M</span><span class="c2">A</span><span class="c0">DFDEIYEEEEDE</span><span class="c3">E</span><span class="c0">RA</span><span class="c2">L</span><span class="c0">EEQLLK</span><span class="c2">Y</span><span class="c1">S</span><span class="c0">P</span><span class="c2">D</span><span class="c0">PV</span><span class="c2">V</span><span class="c0">VRG</span><span class="c2">S</span><span class="c0">G</span><span class="c2">H</span><span class="c0">VTVFGLSNKFE</span><span class="c4">S</span><span class="c0">EFPS</span><span class="c1">S</span><span class="c0">LTGKVAPEEFK</span><span class="c4">A</span><span class="c0">SI</span><span class="c4">N</span><span class="c0">RVN</span><span class="c4">S</span><span class="c0">CL</span><span class="c3">K</span><span class="c0">K</span><span class="c4">N</span><span class="c2">L</span><span class="c0">P</span><span class="c1">VN</span><span class="c0">VR</span><span class="c1">W</span><span class="c0">LLCGCLCCCCTLG</span><span class="c2">C</span><span class="c0">S</span><span class="c1">MW</span><span class="c0">P</span><span class="c1">VI</span><span class="c0">CLS</span><span class="c2">K</span><span class="c0">RTRRS</span><span class="c1">I</span><span class="c0">EK</span><span class="c2">L</span><span class="c0">LE</span><span class="c1">W</span><span class="c0">EN</span><span class="c4">N</span><span class="c0">RLYHKLCLH</span><span class="c1">W</span><span class="c2">R</span><span class="c0">LSKRKCE</span><span class="c2">T</span><span class="c0">NN</span><span class="c1">MM</span><span class="c0">E</span><span class="c1">Y</span><span class="c0">VILIEFLPK</span><span class="c2">T</span><span class="c0">PIF</span><span class="c3">R</span><span class="c2">PD</span><br><span class="c0">M</span><span class="c2">A</span><span class="c0">DFDEIYEEEEDE</span><span class="c3">E</span><span class="c0">RA</span><span class="c2">L</span><span class="c0">EEQLLK</span><span class="c2">Y</span><span class="c1">S</span><span class="c0">P</span><span class="c2">D</span><span class="c0">PV</span><span class="c2">V</span><span class="c0">VRG</span><span class="c2">S</span><span class="c0">G</span><span class="c2">H</span><span class="c0">VTVFGLSNKFE</span><span class="c4">S</span><span class="c0">EFPS</span><span class="c1">S</span><span class="c0">LTGKVAPEEFK</span><span class="c4">A</span><span class="c0">SI</span><span class="c4">N</span><span class="c0">RVN</span><span class="c4">S</span><span class="c0">CL</span><span class="c3">K</span><span class="c0">K</span><span class="c4">N</span><span class="c2">L</span><span class="c0">P</span><span class="c1">VN</span><span class="c0">VR</span><span class="c1">W</span><span class="c0">LLCGCLCCCCTLG</span><span class="c2">C</span><span class="c0">S</span><span class="c1">MW</span><span class="c0">P</span><span class="c1">VI</span><span class="c0">CLS</span><span class="c2">K</span><span class="c0">RTRRS</span><span class="c1">I</span><span class="c0">EK</span><span class="c2">L</span><span class="c0">LE</span><span class="c1">W</span><span class="c0">EN</span><span class="c4">N</span><span class="c0">RLYHKLCLH</span><span class="c1">W</span><span class="c2">R</span><span class="c0">LSKRKCE</span><span class="c2">T</span><span class="c0">NN</span><span class="c1">MM</span><span class="c0">E</span><span class="c1">Y</span><span class="c0">VILIEFLPK</span><span class="c2">T</span><span class="c0">PIF</span><span class="c3">R</span><span class="c2">PD</span><br><span class="c0">M</span><span class="c2">A</span><span class="c0">DFDEIYEEEEDE</span><span class="c3">E</span><span class="c0">RA</span><span class="c2">L</span><span class="c0">EEQLLK</span><span class="c2">Y</span><span class="c1">S</span><span class="c0">P</span><span class="c2">D</span><span class="c0">PV</span><span class="c2">V</span><span class="c0">VRG</span><span class="c2">S</span><span class="c0">G</span><span class="c2">H</span><span class="c0">VTVFGLSNKFE</span><span class="c4">S</span><span class="c0">EFPS</span><span class="c1">S</span><span class="c0">LTGKVAPEEFK</span><span class="c4">A</span><span class="c0">SI</span><span class="c4">N</span><span class="c0">RVN</span><span class="c4">S</span><span class="c0">CL</span><span class="c3">K</span><span class="c0">K</span><span class="c4">N</span><span class="c2">L</span><span class="c0">P</span><span class="c1">VN</span><span class="c0">VR</span><span class="c1">W</span><span class="c0">LLCGCLCCCCTLG</span><span class="c2">C</span><span class="c0">S</span><span class="c1">MW</span><span class="c0">P</span><span class="c1">VI</span><span class="c0">CLS</span><span class="c2">K</span><span class="c0">RTRRS</span><span class="c1">I</span><span class="c0">EK</span><span class="c2">L</span><span class="c0">LE</span><span class="c1">W</span><span class="c0">EN</span><span class="c4">N</span><span class="c0">RLYHKLCLH</span><span class="c1">W</span><span class="c2">R</span><span class="c0">LSKRKCE</span><span class="c2">T</span><span class="c0">NN</span><span class="c1">MM</span><span class="c0">E</span><span class="c1">Y</span><span class="c0">VILIEFLPK</span><span class="c2">T</span><span class="c0">PIF</span><span class="c3">R</span><span class="c2">PD</span><br><span class="c0">M</span><span class="c2">A</span><span class="c0">DFDEIYEEEEDE</span><span class="c3">E</span><span class="c0">RA</span><span class="c2">L</span><span class="c0">EEQLLK</span><span class="c2">Y</span><span class="c1">S</span><span class="c0">P</span><span class="c2">D</span><span class="c0">PV</span><span class="c2">V</span><span class="c0">VRG</span><span class="c2">S</span><span class="c0">G</span><span class="c2">H</span><span class="c0">VTVFGLSNKFE</span><span class="c4">S</span><span class="c0">EFPS</span><span class="c1">S</span><span class="c0">LTGKVAPEEFK</span><span class="c4">A</span><span class="c0">SI</span><span class="c4">N</span><span class="c0">RVN</span><span class="c4">S</span><span class="c0">CL</span><span class="c3">K</span><span class="c0">K</span><span class="c4">N</span><span class="c2">L</span><span class="c0">P</span><span class="c1">VN</span><span class="c0">VR</span><span class="c1">W</span><span class="c0">LLCGCLCCCCTLG</span><span class="c2">C</span><span class="c0">S</span><span class="c1">MW</span><span class="c0">P</span><span class="c1">VI</span><span class="c0">CLS</span><span class="c2">K</span><span class="c0">RTRRS</span><span class="c1">I</span><span class="c0">EK</span><span class="c2">L</span><span class="c0">LE</span><span class="c1">W</span><span class="c0">EN</span><span class="c4">N</span><span class="c0">RLYHKLCLH</span><span class="c1">W</span><span class="c2">R</span><span class="c0">LSKRKCE</span><span class="c2">T</span><span class="c0">NN</span><span class="c1">MM</span><span class="c0">E</span><span class="c1">Y</span><span class="c0">VILIEFLPK</span><span class="c2">T</span><span class="c0">PIF</span><span class="c3">R</span><span class="c2">PD</span><br><span class="c0">M</span><span class="c2">A</span><span class="c0">DFDEIYEEEEDE</span><span class="c3">E</span><span class="c0">RA</span><span class="c2">L</span><span class="c0">EEQLLK</span><span class="c2">Y</span><span class="c1">S</span><span class="c0">P</span><span class="c2">D</span><span class="c0">PV</span><span class="c2">V</span><span class="c0">VRG</span><span class="c2">S</span><span class="c0">G</span><span class="c2">H</span><span class="c0">VTVFGLSNKFE</span><span class="c4">S</span><span class="c0">EFPS</span><span class="c1">S</span><span class="c0">LTGKVAPEEFK</span><span class="c4">A</span><span class="c0">SI</span><span class="c4">N</span><span class="c0">RVN</span><span class="c4">S</span><span class="c0">CL</span><span class="c3">K</span><span class="c0">K</span><span class="c4">N</span><span class="c2">L</span><span class="c0">P</span><span class="c1">VN</span><span class="c0">VR</span><span class="c1">W</span><span class="c0">LLCGCLCCCCTLG</span><span class="c2">C</span><span class="c0">S</span><span class="c1">MW</span><span class="c0">P</span><span class="c1">VI</span><span class="c0">CLS</span><span class="c2">K</span><span class="c0">RTRRS</span><span class="c1">I</span><span class="c0">EK</span><span class="c2">L</span><span class="c0">LE</span><span class="c1">W</span><span class="c0">EN</span><span class="c4">N</span><span class="c0">RLYHKLCLH</span><span class="c1">W</span><span class="c2">R</span><span class="c0">LSKRKCE</span><span class="c2">T</span><span class="c0">NN</span><span class="c1">MM</span><span class="c0">E</span><span class="c1">Y</span><span class="c0">VILIEFLPK</span><span class="c2">T</span><span class="c0">PIF</span><span class="c3">R</span><span class="c2">PD</span><br><span class="c0">M</span><span class="c2">A</span><span class="c0">DFDEIYEEEEDE</span><span class="c3">E</span><span class="c0">RA</span><span class="c2">L</span><span class="c0">EEQLLK</span><span class="c2">Y</span><span class="c1">S</span><span class="c0">P</span><span class="c2">D</span><span class="c0">PV</span><span class="c2">V</span><span class="c0">VRG</span><span class="c2">S</span><span class="c0">G</span><span class="c2">H</span><span class="c0">VTVFGLSNKFE</span><span class="c4">S</span><span class="c0">EFPS</span><span class="c1">S</span><span class="c0">LTGKVAPEEFK</span><span class="c4">A</span><span class="c0">SI</span><span class="c4">N</span><span class="c0">RVN</span><span class="c4">S</span><span class="c0">CL</span><span class="c3">K</span><span class="c0">K</span><span class="c4">N</span><span class="c2">L</span><span class="c0">P</span><span class="c1">VN</span><span class="c0">VR</span><span class="c1">W</span><span class="c0">LLCGCLCCCCTLG</span><span class="c2">C</span><span class="c0">S</span><span class="c1">MW</span><span class="c0">P</span><span class="c1">VI</span><span class="c0">CLS</span><span class="c2">K</span><span class="c0">RTRRS</span><span class="c1">I</span><span class="c0">EK</span><span class="c2">L</span><span class="c0">LE</span><span class="c1">W</span><span class="c0">EN</span><span class="c4">N</span><span class="c0">RLYHKLCLH</span><span class="c1">W</span><span class="c2">R</span><span class="c0">LSKRKCE</span><span class="c2">T</span><span class="c0">NN</span><span class="c1">MM</span><span class="c0">E</span><span class="c1">Y</span><span class="c0">VILIEFLPK</span><span class="c2">T</span><span class="c0">PIF</span><span class="c3">R</span><span class="c2">PD</span><br><span class="c0">M</span><span class="c2">A</span><span class="c0">DFDEIYEEEEDE</span><span class="c3">E</span><span class="c0">RA</span><span class="c2">L</span><span class="c0">EEQLLK</span><span class="c2">Y</span><span class="c1">S</span><span class="c0">P</span><span class="c2">D</span><span class="c0">PV</span><span class="c2">V</span><span class="c0">VRG</span><span class="c2">S</span><span class="c0">G</span><span class="c2">H</span><span class="c0">VTVFGLSNKFE</span><span class="c4">S</span><span class="c0">EFPS</span><span class="c1">S</span><span class="c0">LTGKVAPEEFK</span><span class="c4">A</span><span class="c0">SI</span><span class="c4">N</span><span class="c0">RVN</span><span class="c4">S</span><span class="c0">CL</span><span class="c3">K</span><span class="c0">K</span><span class="c4">N</span><span class="c2">L</span><span class="c0">P</span><span class="c1">VN</span><span class="c0">VR</span><span class="c1">W</span><span class="c0">LLCGCLCCCCTLG</span><span class="c2">C</span><span class="c0">S</span><span class="c1">MW</span><span class="c0">P</span><span class="c1">VI</span><span class="c0">CLS</span><span class="c2">K</span><span class="c0">RTRRS</span><span class="c1">I</span><span class="c0">EK</span><span class="c2">L</span><span class="c0">LE</span><span class="c1">W</span><span class="c0">EN</span><span class="c4">N</span><span class="c0">RLYHKLCLH</span><span class="c1">W</span><span class="c2">R</span><span class="c0">LSKRKCE</span><span class="c2">T</span><span class="c0">NN</span><span class="c1">MM</span><span class="c0">E</span><span class="c1">Y</span><span class="c0">VILIEFLPK</span><span class="c2">T</span><span class="c0">PIF</span><span class="c3">R</span><span class="c2">PD</span><br><span class="c0">M</span><span class="c2">A</span><span class="c0">DFDEIYEEEEDE</span><span class="c3">E</span><span class="c0">RA</span><span class="c2">L</span><span class="c0">EEQLLK</span><span class="c2">Y</span><span class="c1">S</span><span class="c0">P</span><span class="c2">D</span><span class="c0">PV</span><span class="c2">V</span><span class="c0">VRG</span><span class="c2">S</span><span class="c0">G</span><span class="c2">H</span><span class="c0">VTVFGLSNKFE</span><span class="c4">S</span><span class="c0">EFPS</span><span class="c1">S</span><span class="c0">LTGKVAPEEFK</span><span class="c4">A</span><span class="c0">SI</span><span class="c4">N</span><span class="c0">RVN</span><span class="c4">S</span><span class="c0">CL</span><span class="c3">K</span><span class="c0">K</span><span class="c4">N</span><span class="c2">L</span><span class="c0">P</span><span class="c1">VN</span><span class="c0">VR</span><span class="c1">W</span><span class="c0">LLCGCLCCCCTLG</span><span class="c2">C</span><span class="c0">S</span><span class="c1">MW</span><span class="c0">P</span><span class="c1">VI</span><span class="c0">CLS</span><span class="c2">K</span><span class="c0">RTRRS</span><span class="c1">I</span><span class="c0">EK</span><span class="c2">L</span><span class="c0">LE</span><span class="c1">W</span><span class="c0">EN</span><span class="c4">N</span><span class="c0">RLYHKLCLH</span><span class="c1">W</span><span class="c2">R</span><span class="c0">LSKRKCE</span><span class="c2">T</span><span class="c0">NN</span><span class="c1">MM</span><span class="c0">E</span><span class="c1">Y</span><span class="c0">VILIEFLPK</span><span class="c2">T</span><span class="c0">PIF</span><span class="c3">R</span><span class="c2">PD</span><br><span class="c0">M</span><span class="c2">A</span><span class="c0">DFDEIYEEEEDE</span><span class="c3">E</span><span class="c0">RA</span><span class="c2">L</span><span class="c0">EEQLLK</span><span class="c2">Y</span><span class="c1">S</span><span class="c0">P</span><span class="c2">D</span><span class="c0">PV</span><span class="c2">V</span><span class="c0">VRG</span><span class="c2">S</span><span class="c0">G</span><span class="c2">H</span><span class="c0">VTVFGLSNKFE</span><span class="c4">S</span><span class="c0">EFPS</span><span class="c1">S</span><span class="c0">LTGKVAPEEFK</span><span class="c4">A</span><span class="c0">SI</span><span class="c4">N</span><span class="c0">RVN</span><span class="c4">S</span><span class="c0">CL</span><span class="c3">K</span><span class="c0">K</span><span class="c4">N</span><span class="c2">L</span><span class="c0">P</span><span class="c1">VN</span><span class="c0">VR</span><span class="c1">W</span><span class="c0">LLCGCLCCCCTLG</span><span class="c2">C</span><span class="c0">S</span><span class="c1">MW</span><span class="c0">P</span><span class="c1">VI</span><span class="c0">CLS</span><span class="c2">K</span><span class="c0">RTRRS</span><span class="c1">I</span><span class="c0">EK</span><span class="c2">L</span><span class="c0">LE</span><span class="c1">W</span><span class="c0">EN</span><span class="c4">N</span><span class="c0">RLYHKLCLH</span><span class="c1">W</span><span class="c2">R</span><span class="c0">LSKRKCE</span><span class="c2">T</span><span class="c0">NN</span><span class="c1">MM</span><span class="c0">E</span><span class="c1">Y</span><span class="c0">VILIEFLPK</span><span class="c2">T</span><span class="c0">PIF</span><span class="c3">R</span><span class="c2">PD</span><br><span class="c0">M</span><span class="c2">A</span><span class="c0">DFDEIYEEEEDE</span><span class="c3">E</span><span class="c0">RA</span><span class="c2">L</span><span class="c0">EEQLLK</span><span class="c2">Y</span><span class="c1">S</span><span class="c0">P</span><span class="c2">D</span><span class="c0">PV</span><span class="c2">V</span><span class="c0">VRG</span><span class="c2">S</span><span class="c0">G</span><span class="c2">H</span><span class="c0">VTVFGLSNKFE</span><span class="c4">S</span><span class="c0">EFPS</span><span class="c1">S</span><span class="c0">LTGKVAPEEFK</span><span class="c4">A</span><span class="c0">SI</span><span class="c4">N</span><span class="c0">RVN</span><span class="c4">S</span><span class="c0">CL</span><span class="c3">K</span><span class="c0">K</span><span class="c4">N</span><span class="c2">L</span><span class="c0">P</span><span class="c1">VN</span><span class="c0">VR</span><span class="c1">W</span><span class="c0">LLCGCLCCCCTLG</span><span class="c2">C</span><span class="c0">S</span><span class="c1">MW</span><span class="c0">P</span><span class="c1">VI</span><span class="c0">CLS</span><span class="c2">K</span><span class="c0">RTRRS</span><span class="c1">I</span><span class="c0">EK</span><span class="c2">L</span><span class="c0">LE</span><span class="c1">W</span><span class="c0">EN</span><span class="c4">N</span><span class="c0">RLYHKLCLH</span><span class="c1">W</span><span class="c2">R</span><span class="c0">LSKRKCE</span><span class="c2">T</span><span class="c0">NN</span><span class="c1">MM</span><span class="c0">E</span><span class="c1">Y</span><span class="c0">VILIEFLPK</span><span class="c2">T</span><span class="c0">PIF</span><span class="c3">R</span><span class="c2">PD</span><br><span class="c0">M</span><span class="c2">A</span><span class="c0">DFDEIYEEEEDE</span><span class="c3">E</span><span class="c0">RA</span><span class="c2">L</span><span class="c0">EEQLLK</span><span class="c2">Y</span><span class="c1">S</span><span class="c0">P</span><span class="c2">D</span><span class="c0">PV</span><span class="c2">V</span><span class="c0">VRG</span><span class="c2">S</span><span class="c0">G</span><span class="c2">H</span><span class="c0">VTVFGLSNKFE</span><span class="c4">S</span><span class="c0">EFPS</span><span class="c1">S</span><span class="c0">LTGKVAPEEFK</span><span class="c4">A</span><span class="c0">SI</span><span class="c4">N</span><span class="c0">RVN</span><span class="c4">S</span><span class="c0">CL</span><span class="c3">R</span><span class="c0">K</span><span class="c4">N</span><span class="c2">L</span><span class="c0">P</span><span class="c1">VN</span><span class="c0">VR</span><span class="c1">W</span><span class="c0">LLCGCLCCCCTLG</span><span class="c2">C</span><span class="c0">S</span><span class="c1">MW</span><span class="c0">P</span><span class="c1">VI</span><span class="c0">CLS</span><span class="c2">K</span><span class="c0">RTRRS</span><span class="c1">I</span><span class="c0">EK</span><span class="c2">L</span><span class="c0">LE</span><span class="c1">W</span><span class="c0">EN</span><span class="c4">N</span><span class="c0">RLYHKLCLH</span><span class="c1">W</span><span class="c2">R</span><span class="c0">LSKRKCE</span><span class="c2">T</span><span class="c0">NN</span><span class="c1">MM</span><span class="c0">E</span><span class="c1">Y</span><span class="c0">VILIEFLPK</span><span class="c2">T</span><span class="c0">PIF</span><span class="c3">R</span><span class="c2">PD</span><br><span class="c0">M</span><span class="c2">A</span><span class="c0">DFDEIYEEEEDE</span><span class="c3">E</span><span class="c0">RA</span><span class="c2">L</span><span class="c0">EEQLLK</span><span class="c2">Y</span><span class="c1">S</span><span class="c0">P</span><span class="c2">D</span><span class="c0">PV</span><span class="c2">V</span><span class="c0">VRG</span><span class="c2">S</span><span class="c0">G</span><span class="c2">H</span><span class="c0">VTVFGLSNKFE</span><span class="c4">S</span><span class="c0">EFPS</span><span class="c1">S</span><span class="c0">LTGKVAPEEFK</span><span class="c4">A</span><span class="c0">SI</span><span class="c4">N</span><span class="c0">RVN</span><span class="c4">S</span><span class="c0">CL</span><span class="c3">R</span><span class="c0">K</span><span class="c4">N</span><span class="c2">L</span><span class="c0">P</span><span class="c1">VN</span><span class="c0">VR</span><span class="c1">W</span><span class="c0">LLCGCLCCCCTLG</span><span class="c2">C</span><span class="c0">S</span><span class="c1">MW</span><span class="c0">P</span><span class="c1">VI</span><span class="c0">CLS</span><span class="c2">K</span><span class="c0">RTRRS</span><span class="c1">I</span><span class="c0">EK</span><span class="c2">L</span><span class="c0">LE</span><span class="c1">W</span><span class="c0">EN</span><span class="c4">N</span><span class="c0">RLYHKLCLH</span><span class="c1">W</span><span class="c2">R</span><span class="c0">LSKRKCE</span><span class="c2">T</span><span class="c0">NN</span><span class="c1">MM</span><span class="c0">E</span><span class="c1">Y</span><span class="c0">VILIEFLPK</span><span class="c2">T</span><span class="c0">PIF</span><span class="c3">R</span><span class="c2">PD</span><br><span class="c0">M</span><span class="c2">A</span><span class="c0">DFDEIYEEEEDE</span><span class="c3">E</span><span class="c0">RA</span><span class="c2">L</span><span class="c0">EEQLLK</span><span class="c2">Y</span><span class="c1">S</span><span class="c0">P</span><span class="c2">D</span><span class="c0">PV</span><span class="c2">V</span><span class="c0">VRG</span><span class="c2">S</span><span class="c0">G</span><span class="c2">H</span><span class="c0">VTVFGLSNKFE</span><span class="c4">S</span><span class="c0">EFPS</span><span class="c1">S</span><span class="c0">LTGKVAPEEFK</span><span class="c4">A</span><span class="c0">SI</span><span class="c4">N</span><span class="c0">RVN</span><span class="c4">S</span><span class="c0">CL</span><span class="c3">K</span><span class="c0">K</span><span class="c4">S</span><span class="c2">L</span><span class="c0">P</span><span class="c1">VN</span><span class="c0">VR</span><span class="c1">W</span><span class="c0">LLCGCLCCCCTLG</span><span class="c2">C</span><span class="c0">S</span><span class="c1">MW</span><span class="c0">P</span><span class="c1">VI</span><span class="c0">CLS</span><span class="c2">K</span><span class="c0">RTRRS</span><span class="c1">I</span><span class="c0">EK</span><span class="c2">L</span><span class="c0">LE</span><span class="c1">W</span><span class="c0">EN</span><span class="c4">N</span><span class="c0">RLYHKLCLH</span><span class="c1">W</span><span class="c2">R</span><span class="c0">LSKRKCE</span><span class="c2">T</span><span class="c0">NN</span><span class="c1">MM</span><span class="c0">E</span><span class="c1">Y</span><span class="c0">VILIEFLPK</span><span class="c2">T</span><span class="c0">PIF</span><span class="c3">R</span><span class="c2">PD</span><br><span class="c0">M</span><span class="c2">A</span><span class="c0">DFDEIYEEEEDE</span><span class="c3">E</span><span class="c0">RA</span><span class="c2">L</span><span class="c0">EEQLLK</span><span class="c2">Y</span><span class="c1">S</span><span class="c0">P</span><span class="c2">D</span><span class="c0">PV</span><span class="c2">V</span><span class="c0">VRG</span><span class="c2">S</span><span class="c0">G</span><span class="c2">H</span><span class="c0">VTVFGLSNKFE</span><span class="c4">S</span><span class="c0">EFPS</span><span class="c1">S</span><span class="c0">LTGKVAPEEFK</span><span class="c4">A</span><span class="c0">SI</span><span class="c4">T</span><span class="c0">RVN</span><span class="c4">S</span><span class="c0">CL</span><span class="c3">K</span><span class="c0">K</span><span class="c4">N</span><span class="c2">L</span><span class="c0">P</span><span class="c1">VN</span><span class="c0">VR</span><span class="c1">W</span><span class="c0">LLCGCLCCCCTLG</span><span class="c2">C</span><span class="c0">S</span><span class="c1">MW</span><span class="c0">P</span><span class="c1">VI</span><span class="c0">CLS</span><span class="c2">K</span><span class="c0">RTRRS</span><span class="c1">I</span><span class="c0">EK</span><span class="c2">L</span><span class="c0">LE</span><span class="c1">W</span><span class="c0">EN</span><span class="c4">N</span><span class="c0">RLYHKLCLH</span><span class="c1">W</span><span class="c2">R</span><span class="c0">LSKRKCE</span><span class="c2">T</span><span class="c0">NN</span><span class="c1">MM</span><span class="c0">E</span><span class="c1">Y</span><span class="c0">VILIEFLPK</span><span class="c2">T</span><span class="c0">PIF</span><span class="c3">R</span><span class="c2">PD</span><br><span class="c0">M</span><span class="c2">A</span><span class="c0">DFDEIYEEEEDE</span><span class="c3">E</span><span class="c0">RA</span><span class="c2">L</span><span class="c0">EEQLLK</span><span class="c2">Y</span><span class="c1">S</span><span class="c0">P</span><span class="c2">D</span><span class="c0">PV</span><span class="c2">V</span><span class="c0">VRG</span><span class="c2">S</span><span class="c0">G</span><span class="c2">H</span><span class="c0">VTVFGLSNKFE</span><span class="c4">A</span><span class="c0">EFPS</span><span class="c1">S</span><span class="c0">LTGKVAPEEFK</span><span class="c4">A</span><span class="c0">SI</span><span class="c4">S</span><span class="c0">RVN</span><span class="c4">S</span><span class="c0">CL</span><span class="c3">K</span><span class="c0">K</span><span class="c4">N</span><span class="c2">L</span><span class="c0">P</span><span class="c1">VN</span><span class="c0">VR</span><span class="c1">W</span><span class="c0">LLCGCLCCCCTLG</span><span class="c2">C</span><span class="c0">S</span><span class="c1">MW</span><span class="c0">P</span><span class="c1">VI</span><span class="c0">CLS</span><span class="c2">K</span><span class="c0">RTRRS</span><span class="c1">I</span><span class="c0">EK</span><span class="c2">L</span><span class="c0">LE</span><span class="c1">W</span><span class="c0">EN</span><span class="c4">N</span><span class="c0">RLYHKLCLH</span><span class="c1">W</span><span class="c2">R</span><span class="c0">LSKRKCE</span><span class="c2">T</span><span class="c0">NN</span><span class="c1">MM</span><span class="c0">E</span><span class="c1">Y</span><span class="c0">VILIEFLPK</span><span class="c2">T</span><span class="c0">PIF</span><span class="c3">R</span><span class="c2">PD</span><br><span class="c0">M</span><span class="c2">A</span><span class="c0">DFDEIYEEEEDE</span><span class="c3">E</span><span class="c0">RA</span><span class="c2">L</span><span class="c0">EEQLLK</span><span class="c2">Y</span><span class="c1">S</span><span class="c0">P</span><span class="c2">D</span><span class="c0">PV</span><span class="c2">V</span><span class="c0">VRG</span><span class="c2">S</span><span class="c0">G</span><span class="c2">H</span><span class="c0">VTVFGLSNKFE</span><span class="c4">S</span><span class="c0">EFPS</span><span class="c1">S</span><span class="c0">LTGKVAPEEFK</span><span class="c4">A</span><span class="c0">SI</span><span class="c4">N</span><span class="c0">RVN</span><span class="c4">R</span><span class="c0">CL</span><span class="c3">K</span><span class="c0">K</span><span class="c4">N</span><span class="c2">L</span><span class="c0">P</span><span class="c1">VN</span><span class="c0">VR</span><span class="c1">W</span><span class="c0">LLCGCLCCCCTLG</span><span class="c2">C</span><span class="c0">S</span><span class="c1">MW</span><span class="c0">P</span><span class="c1">VI</span><span class="c0">CLS</span><span class="c2">N</span><span class="c0">RTRRS</span><span class="c1">I</span><span class="c0">EK</span><span class="c2">L</span><span class="c0">LE</span><span class="c1">W</span><span class="c0">EN</span><span class="c4">N</span><span class="c0">RLYHKLCLH</span><span class="c1">W</span><span class="c2">R</span><span class="c0">LSKRKCE</span><span class="c2">T</span><span class="c0">NN</span><span class="c1">MM</span><span class="c0">E</span><span class="c1">Y</span><span class="c0">VILIEFLPK</span><span class="c2">T</span><span class="c0">PIF</span><span class="c3">R</span><span class="c2">PD</span><br><span class="c0">M</span><span class="c2">A</span><span class="c0">DFDEIYEEEEDE</span><span class="c3">E</span><span class="c0">RA</span><span class="c2">L</span><span class="c0">EEQLLK</span><span class="c2">Y</span><span class="c1">S</span><span class="c0">P</span><span class="c2">D</span><span class="c0">PV</span><span class="c2">V</span><span class="c0">VRG</span><span class="c2">S</span><span class="c0">G</span><span class="c2">H</span><span class="c0">VTVFGLSNKFE</span><span class="c4">S</span><span class="c0">EFPS</span><span class="c1">S</span><span class="c0">LTGKVAPEEFK</span><span class="c4">-</span><span class="c0">SI</span><span class="c4">N</span><span class="c0">RVN</span><span class="c4">S</span><span class="c0">CL</span><span class="c3">K</span><span class="c0">K</span><span class="c4">N</span><span class="c2">F</span><span class="c0">P</span><span class="c1">VN</span><span class="c0">VR</span><span class="c1">W</span><span class="c0">LLCGCLCCCCTLG</span><span class="c2">C</span><span class="c0">S</span><span class="c1">MW</span><span class="c0">P</span><span class="c1">VI</span><span class="c0">CLS</span><span class="c2">K</span><span class="c0">RTRRS</span><span class="c1">I</span><span class="c0">EK</span><span class="c2">L</span><span class="c0">LE</span><span class="c1">W</span><span class="c0">EN</span><span class="c4">N</span><span class="c0">RLYHKLCLH</span><span class="c1">W</span><span class="c2">R</span><span class="c0">LSKRKCE</span><span class="c2">T</span><span class="c0">NN</span><span class="c1">MM</span><span class="c0">E</span><span class="c1">Y</span><span class="c0">VILIEFLPK</span><span class="c2">T</span><span class="c0">PIF</span><span class="c3">R</span><span class="c2">PD</span><br><span class="c0">M</span><span class="c2">A</span><span class="c0">DFDEIYEEEEDE</span><span class="c3">E</span><span class="c0">RA</span><span class="c2">L</span><span class="c0">EEQLLK</span><span class="c2">Y</span><span class="c1">S</span><span class="c0">P</span><span class="c2">D</span><span class="c0">PV</span><span class="c2">I</span><span class="c0">VRG</span><span class="c2">C</span><span class="c0">G</span><span class="c2">H</span><span class="c0">VTVFGLSNKFE</span><span class="c4">A</span><span class="c0">EFPS</span><span class="c1">S</span><span class="c0">LTGKVAPEEFK</span><span class="c4">S</span><span class="c0">SI</span><span class="c4">N</span><span class="c0">RVN</span><span class="c4">S</span><span class="c0">CL</span><span class="c3">K</span><span class="c0">K</span><span class="c4">N</span><span class="c2">L</span><span class="c0">P</span><span class="c1">IN</span><span class="c0">VR</span><span class="c1">W</span><span class="c0">LLCGCLCCCCTLG</span><span class="c2">C</span><span class="c0">S</span><span class="c1">MW</span><span class="c0">P</span><span class="c1">VV</span><span class="c0">CLS</span><span class="c2">K</span><span class="c0">RTRRS</span><span class="c1">I</span><span class="c0">EK</span><span class="c2">L</span><span class="c0">LE</span><span class="c1">W</span><span class="c0">EN</span><span class="c4">N</span><span class="c0">RLYHKLCLH</span><span class="c1">W</span><span class="c2">R</span><span class="c0">LSKRKCE</span><span class="c2">T</span><span class="c0">NN</span><span class="c1">MM</span><span class="c0">E</span><span class="c1">Y</span><span class="c0">VILIEFLPK</span><span class="c2">T</span><span class="c0">PIF</span><span class="c3">R</span><span class="c2">PD</span><br><span class="c0">X</span><span class="c2">X</span><span class="c0">XFDEIYEEEEDE</span><span class="c3">E</span><span class="c0">RA</span><span class="c2">A</span><span class="c0">EEQLLK</span><span class="c2">Y</span><span class="c1">S</span><span class="c0">P</span><span class="c2">D</span><span class="c0">PV</span><span class="c2">V</span><span class="c0">VRG</span><span class="c2">S</span><span class="c0">G</span><span class="c2">H</span><span class="c0">VTVFGLSNKFE</span><span class="c4">S</span><span class="c0">EFPS</span><span class="c1">S</span><span class="c0">LTGKVAPEEFK</span><span class="c4">A</span><span class="c0">SI</span><span class="c4">N</span><span class="c0">RVN</span><span class="c4">G</span><span class="c0">CL</span><span class="c3">K</span><span class="c0">K</span><span class="c4">N</span><span class="c2">L</span><span class="c0">P</span><span class="c1">VN</span><span class="c0">VR</span><span class="c1">W</span><span class="c0">LLCGCLCCCCTLG</span><span class="c2">C</span><span class="c0">S</span><span class="c1">MW</span><span class="c0">P</span><span class="c1">VI</span><span class="c0">CLS</span><span class="c2">K</span><span class="c0">RTRRS</span><span class="c1">I</span><span class="c0">EK</span><span class="c2">L</span><span class="c0">LE</span><span class="c1">W</span><span class="c0">EN</span><span class="c4">N</span><span class="c0">RLYHKLCLH</span><span class="c1">W</span><span class="c2">R</span><span class="c0">LSKRKCE</span><span class="c2">T</span><span class="c0">NN</span><span class="c1">MM</span><span class="c0">E</span><span class="c1">Y</span><span class="c0">VILIEFLPK</span><span class="c2">T</span><span class="c0">PIF</span><span class="c3">R</span><span class="c2">PD</span><br><span class="c0">M</span><span class="c2">A</span><span class="c0">DFDEIYEEEEDE</span><span class="c3">E</span><span class="c0">RA</span><span class="c2">L</span><span class="c0">EEQLLK</span><span class="c2">H</span><span class="c1">S</span><span class="c0">P</span><span class="c2">D</span><span class="c0">PV</span><span class="c2">V</span><span class="c0">VRG</span><span class="c2">S</span><span class="c0">G</span><span class="c2">H</span><span class="c0">VTVFGLSNKFE</span><span class="c4">A</span><span class="c0">EFPS</span><span class="c1">S</span><span class="c0">LTGKVAPEEFK</span><span class="c4">A</span><span class="c0">SI</span><span class="c4">S</span><span class="c0">RVN</span><span class="c4">S</span><span class="c0">CL</span><span class="c3">K</span><span class="c0">K</span><span class="c4">N</span><span class="c2">L</span><span class="c0">P</span><span class="c1">VN</span><span class="c0">VR</span><span class="c1">W</span><span class="c0">LLCGCLCCCCTLG</span><span class="c2">C</span><span class="c0">S</span><span class="c1">MW</span><span class="c0">P</span><span class="c1">VI</span><span class="c0">CLS</span><span class="c2">K</span><span class="c0">RTRRS</span><span class="c1">I</span><span class="c0">EK</span><span class="c2">L</span><span class="c0">LE</span><span class="c1">W</span><span class="c0">EN</span><span class="c4">N</span><span class="c0">RLYHKLCLH</span><span class="c1">W</span><span class="c2">R</span><span class="c0">LSKRKCE</span><span class="c2">S</span><span class="c0">NN</span><span class="c1">MM</span><span class="c0">E</span><span class="c1">Y</span><span class="c0">VILIEFLPK</span><span class="c2">T</span><span class="c0">PIF</span><span class="c3">P</span><span class="c2">TR</span><br><span class="c0">M</span><span class="c2">E</span><span class="c0">DFDEIYEEEEDE</span><span class="c3">D</span><span class="c0">RA</span><span class="c2">A</span><span class="c0">EEQLLK</span><span class="c2">Y</span><span class="c1">A</span><span class="c0">P</span><span class="c2">D</span><span class="c0">PV</span><span class="c2">V</span><span class="c0">VRG</span><span class="c2">S</span><span class="c0">G</span><span class="c2">H</span><span class="c0">VTVFGLSNKFE</span><span class="c4">S</span><span class="c0">EFPS</span><span class="c1">A</span><span class="c0">LTGKVAPEEFK</span><span class="c4">A</span><span class="c0">SI</span><span class="c4">N</span><span class="c0">RVN</span><span class="c4">S</span><span class="c0">CL</span><span class="c3">R</span><span class="c0">K</span><span class="c4">T</span><span class="c2">L</span><span class="c0">P</span><span class="c1">VN</span><span class="c0">VR</span><span class="c1">W</span><span class="c0">LLCGCLCCCCTLG</span><span class="c2">F</span><span class="c0">S</span><span class="c1">LW</span><span class="c0">P</span><span class="c1">VI</span><span class="c0">CLS</span><span class="c2">K</span><span class="c0">RTRRS</span><span class="c1">I</span><span class="c0">EK</span><span class="c2">L</span><span class="c0">LE</span><span class="c1">W</span><span class="c0">EN</span><span class="c4">N</span><span class="c0">RLYHKLCLH</span><span class="c1">W</span><span class="c2">K</span><span class="c0">LSKRKCE</span><span class="c2">T</span><span class="c0">NN</span><span class="c1">MM</span><span class="c0">E</span><span class="c1">Y</span><span class="c0">VILIEFLPK</span><span class="c2">I</span><span class="c0">PIF</span><span class="c3">K</span><span class="c2">PD</span><br><span class="c0">M</span><span class="c2">E</span><span class="c0">DFDEIYEEEEDE</span><span class="c3">D</span><span class="c0">RA</span><span class="c2">A</span><span class="c0">EEQLLK</span><span class="c2">Y</span><span class="c1">A</span><span class="c0">P</span><span class="c2">D</span><span class="c0">PV</span><span class="c2">V</span><span class="c0">VRG</span><span class="c2">S</span><span class="c0">G</span><span class="c2">H</span><span class="c0">VTVFGLSNKFE</span><span class="c4">S</span><span class="c0">EFPS</span><span class="c1">A</span><span class="c0">LTGKVAPEEFK</span><span class="c4">A</span><span class="c0">SI</span><span class="c4">N</span><span class="c0">RVN</span><span class="c4">S</span><span class="c0">CL</span><span class="c3">R</span><span class="c0">K</span><span class="c4">T</span><span class="c2">L</span><span class="c0">P</span><span class="c1">VN</span><span class="c0">VR</span><span class="c1">W</span><span class="c0">LLCGCLCCCCTLG</span><span class="c2">F</span><span class="c0">S</span><span class="c1">LW</span><span class="c0">P</span><span class="c1">VI</span><span class="c0">CLS</span><span class="c2">K</span><span class="c0">RTRRS</span><span class="c1">I</span><span class="c0">EK</span><span class="c2">L</span><span class="c0">LE</span><span class="c1">W</span><span class="c0">EN</span><span class="c4">N</span><span class="c0">RLYHKLCLH</span><span class="c1">W</span><span class="c2">K</span><span class="c0">LSKRKCE</span><span class="c2">T</span><span class="c0">NN</span><span class="c1">MM</span><span class="c0">E</span><span class="c1">Y</span><span class="c0">VILIEFLPK</span><span class="c2">I</span><span class="c0">PIF</span><span class="c3">K</span><span class="c2">PD</span><br><span class="c0">M</span><span class="c2">E</span><span class="c0">DFDEIYEEEEDE</span><span class="c3">D</span><span class="c0">RA</span><span class="c2">A</span><span class="c0">EEQLLK</span><span class="c2">Y</span><span class="c1">A</span><span class="c0">P</span><span class="c2">D</span><span class="c0">PV</span><span class="c2">V</span><span class="c0">VRG</span><span class="c2">S</span><span class="c0">G</span><span class="c2">H</span><span class="c0">VTVFGLSNKFE</span><span class="c4">S</span><span class="c0">EFPS</span><span class="c1">A</span><span class="c0">LTGKVAPEEFK</span><span class="c4">A</span><span class="c0">SI</span><span class="c4">Y</span><span class="c0">RVN</span><span class="c4">S</span><span class="c0">CL</span><span class="c3">R</span><span class="c0">K</span><span class="c4">T</span><span class="c2">L</span><span class="c0">P</span><span class="c1">VN</span><span class="c0">VR</span><span class="c1">W</span><span class="c0">LLCGCLCCCCTLG</span><span class="c2">F</span><span class="c0">S</span><span class="c1">LW</span><span class="c0">P</span><span class="c1">VI</span><span class="c0">CLS</span><span class="c2">K</span><span class="c0">RTRRS</span><span class="c1">L</span><span class="c0">EK</span><span class="c2">L</span><span class="c0">LE</span><span class="c1">W</span><span class="c0">EN</span><span class="c4">G</span><span class="c0">RLYHKLCLH</span><span class="c1">W</span><span class="c2">K</span><span class="c0">LSKRKCE</span><span class="c2">T</span><span class="c0">NN</span><span class="c1">MM</span><span class="c0">E</span><span class="c1">F</span><span class="c0">VILIEFLPK</span><span class="c2">I</span><span class="c0">PIF</span><span class="c3">R</span><span class="c2">PD</span><br><span class="c0">M</span><span class="c2">E</span><span class="c0">DFDEIYEEEEDE</span><span class="c3">D</span><span class="c0">RA</span><span class="c2">A</span><span class="c0">EEQLLK</span><span class="c2">Y</span><span class="c1">A</span><span class="c0">P</span><span class="c2">D</span><span class="c0">PV</span><span class="c2">V</span><span class="c0">VRG</span><span class="c2">S</span><span class="c0">G</span><span class="c2">H</span><span class="c0">VTVFGLSNKFE</span><span class="c4">P</span><span class="c0">EFPS</span><span class="c1">A</span><span class="c0">LTGKVAPEEFK</span><span class="c4">A</span><span class="c0">SI</span><span class="c4">N</span><span class="c0">RVN</span><span class="c4">S</span><span class="c0">CL</span><span class="c3">R</span><span class="c0">K</span><span class="c4">T</span><span class="c2">L</span><span class="c0">P</span><span class="c1">VN</span><span class="c0">VR</span><span class="c1">W</span><span class="c0">LLCGCLCCCCTLG</span><span class="c2">F</span><span class="c0">S</span><span class="c1">LW</span><span class="c0">P</span><span class="c1">VI</span><span class="c0">CLS</span><span class="c2">K</span><span class="c0">RTRRS</span><span class="c1">I</span><span class="c0">EK</span><span class="c2">V</span><span class="c0">LE</span><span class="c1">W</span><span class="c0">EN</span><span class="c4">S</span><span class="c0">RLYHKLCLH</span><span class="c1">W</span><span class="c2">R</span><span class="c0">LSKRKCE</span><span class="c2">T</span><span class="c0">NN</span><span class="c1">MM</span><span class="c0">E</span><span class="c1">Y</span><span class="c0">VILIEFLPK</span><span class="c2">I</span><span class="c0">PIF</span><span class="c3">R</span><span class="c2">PD</span><br><span class="c0">M</span><span class="c2">E</span><span class="c0">DFDEIYEEEEDE</span><span class="c3">D</span><span class="c0">RA</span><span class="c2">A</span><span class="c0">EEQLLK</span><span class="c2">Y</span><span class="c1">A</span><span class="c0">P</span><span class="c2">D</span><span class="c0">PV</span><span class="c2">V</span><span class="c0">VRG</span><span class="c2">S</span><span class="c0">G</span><span class="c2">H</span><span class="c0">VTVFGLSNKFE</span><span class="c4">S</span><span class="c0">EFPS</span><span class="c1">A</span><span class="c0">LTGKVAPEEFK</span><span class="c4">S</span><span class="c0">SI</span><span class="c4">N</span><span class="c0">RVN</span><span class="c4">S</span><span class="c0">CL</span><span class="c3">R</span><span class="c0">K</span><span class="c4">A</span><span class="c2">L</span><span class="c0">P</span><span class="c1">VN</span><span class="c0">VR</span><span class="c1">W</span><span class="c0">LLCGCLCCCCTLG</span><span class="c2">F</span><span class="c0">S</span><span class="c1">LW</span><span class="c0">P</span><span class="c1">VI</span><span class="c0">CLS</span><span class="c2">K</span><span class="c0">RTRRS</span><span class="c1">I</span><span class="c0">EK</span><span class="c2">L</span><span class="c0">LE</span><span class="c1">W</span><span class="c0">EN</span><span class="c4">S</span><span class="c0">RLYHKLCLH</span><span class="c1">W</span><span class="c2">R</span><span class="c0">LSKRKCE</span><span class="c2">T</span><span class="c0">NN</span><span class="c1">MM</span><span class="c0">E</span><span class="c1">Y</span><span class="c0">VILIEFLPK</span><span class="c2">I</span><span class="c0">PIF</span><span class="c3">R</span><span class="c2">PD</span><br><span class="c0">M</span><span class="c2">E</span><span class="c0">DFDEIYEEEEDE</span><span class="c3">Q</span><span class="c0">RA</span><span class="c2">A</span><span class="c0">EEQLLK</span><span class="c2">Y</span><span class="c1">A</span><span class="c0">P</span><span class="c2">E</span><span class="c0">PV</span><span class="c2">L</span><span class="c0">VRG</span><span class="c2">S</span><span class="c0">G</span><span class="c2">R</span><span class="c0">VTVFGLSNKFE</span><span class="c4">S</span><span class="c0">EFPS</span><span class="c1">A</span><span class="c0">LTGKVAPEEFK</span><span class="c4">A</span><span class="c0">SI</span><span class="c4">N</span><span class="c0">RVN</span><span class="c4">G</span><span class="c0">CL</span><span class="c3">R</span><span class="c0">K</span><span class="c4">T</span><span class="c2">L</span><span class="c0">P</span><span class="c1">VN</span><span class="c0">VR</span><span class="c1">W</span><span class="c0">LLCGCLCCCCTLG</span><span class="c2">F</span><span class="c0">S</span><span class="c1">LW</span><span class="c0">P</span><span class="c1">VI</span><span class="c0">CLS</span><span class="c2">K</span><span class="c0">RTRRS</span><span class="c1">I</span><span class="c0">EK</span><span class="c2">L</span><span class="c0">LE</span><span class="c1">W</span><span class="c0">EN</span><span class="c4">S</span><span class="c0">RLYHKLCLH</span><span class="c1">W</span><span class="c2">R</span><span class="c0">LSKRKCE</span><span class="c2">T</span><span class="c0">NN</span><span class="c1">MM</span><span class="c0">E</span><span class="c1">Y</span><span class="c0">VILIEFLPK</span><span class="c2">I</span><span class="c0">PIF</span><span class="c3">R</span><span class="c2">PD</span></div>
</body></html>
